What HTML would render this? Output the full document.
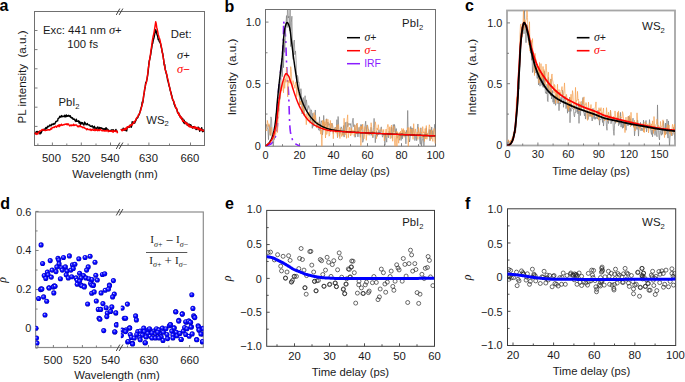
<!DOCTYPE html>
<html><head><meta charset="utf-8"><style>
html,body{margin:0;padding:0;background:#fff;width:685px;height:382px;overflow:hidden}
svg{display:block}
</style></head><body>
<svg width="685" height="382" viewBox="0 0 685 382" font-family="Liberation Sans, sans-serif">
<defs><clipPath id="clipA"><rect x="34.5" y="11.5" width="170" height="134"/></clipPath><clipPath id="clipB"><rect x="265.5" y="9.5" width="170" height="136.7"/></clipPath><clipPath id="clipC"><rect x="507" y="10.5" width="168" height="135"/></clipPath><radialGradient id="sph" cx="0.5" cy="0.5" r="0.5" fx="0.36" fy="0.34"><stop offset="0" stop-color="#f0f0ff"/><stop offset="0.22" stop-color="#6060ff"/><stop offset="0.55" stop-color="#0808ff"/><stop offset="0.85" stop-color="#0000e8"/><stop offset="1" stop-color="#0000a8"/></radialGradient><clipPath id="clipD1"><rect x="35.6" y="212" width="82.7" height="135.5"/></clipPath><clipPath id="clipD2"><rect x="120.8" y="212" width="82.5" height="135.5"/></clipPath><clipPath id="clipE"><rect x="266.7" y="210.4" width="167.8" height="135.9"/></clipPath><clipPath id="clipF"><rect x="507.5" y="208.8" width="168.2" height="136.7"/></clipPath></defs>
<text x="-0.5" y="11" font-size="16" font-weight="bold" fill="#000">a</text>
<rect x="34.5" y="11.5" width="170" height="134" fill="none" stroke="#707070" stroke-width="1.0"/>
<path d="M116.45,14.6 L119.65,8.9 M119.35,14.6 L122.7,8.9" stroke="#3a3a3a" stroke-width="0.95" fill="none" stroke-linecap="round"/>
<path d="M116.45,148.6 L119.65,142.9 M119.35,148.6 L122.7,142.9" stroke="#3a3a3a" stroke-width="0.95" fill="none" stroke-linecap="round"/>
<path d="M52.4,145.5 L52.4,142.5 M81.3,145.5 L81.3,142.5 M110.5,145.5 L110.5,142.5 M148.9,145.5 L148.9,142.5 M190.5,145.5 L190.5,142.5 " stroke="#707070" stroke-width="0.9" fill="none"/>
<path d="M37.9,145.5 L37.9,143.5 M66.8,145.5 L66.8,143.5 M96,145.5 L96,143.5 M128.1,145.5 L128.1,143.5 M169.5,145.5 L169.5,143.5 " stroke="#707070" stroke-width="0.9" fill="none"/>
<path d="M34.5,30.5 L37.5,30.5 M34.5,49.6 L37.5,49.6 M34.5,68.8 L37.5,68.8 M34.5,88 L37.5,88 M34.5,107.2 L37.5,107.2 M34.5,126.4 L37.5,126.4 " stroke="#707070" stroke-width="0.9" fill="none"/>
<text x="51.5" y="161.9" font-size="11.3" text-anchor="middle" fill="#1a1a1a" >500</text>
<text x="80.9" y="161.9" font-size="11.3" text-anchor="middle" fill="#1a1a1a" >520</text>
<text x="110.2" y="161.9" font-size="11.3" text-anchor="middle" fill="#1a1a1a" >540</text>
<text x="148.5" y="161.9" font-size="11.3" text-anchor="middle" fill="#1a1a1a" >630</text>
<text x="189.9" y="161.9" font-size="11.3" text-anchor="middle" fill="#1a1a1a" >660</text>
<text x="115" y="178" font-size="11.3" text-anchor="middle" fill="#1a1a1a" >Wavelength (nm)</text>
<text x="21" y="77" font-size="11.6" text-anchor="middle" fill="#1a1a1a" transform="rotate(-90 21 77)" dominant-baseline="central" xml:space="preserve">PL intensity  (a.u.)</text>
<text x="43" y="34.3" font-size="11.3" text-anchor="start" fill="#1a1a1a" >Exc: 441 nm <tspan font-family="Liberation Serif" font-style="italic" font-size="12.5">&#963;</tspan>+</text>
<text x="82.7" y="47.5" font-size="11.3" text-anchor="middle" fill="#1a1a1a" >100 fs</text>
<text x="170.8" y="37.8" font-size="11.3" text-anchor="start" fill="#1a1a1a" >Det:</text>
<text x="183.5" y="58.8" font-size="11.3" text-anchor="middle" fill="#1a1a1a" ><tspan font-family="Liberation Serif" font-style="italic" font-size="12.5">&#963;</tspan>+</text>
<text x="183.5" y="73.3" font-size="11.3" text-anchor="middle" fill="#ff0000" ><tspan font-family="Liberation Serif" font-style="italic" font-size="12.5">&#963;</tspan>&#8722;</text>
<text x="69" y="105.7" font-size="11.3" text-anchor="middle" fill="#1a1a1a" >PbI<tspan font-size="7.6" dy="2.8">2</tspan></text>
<text x="157.5" y="123.5" font-size="11.3" text-anchor="middle" fill="#1a1a1a" >WS<tspan font-size="7.6" dy="2.8">2</tspan></text>
<g clip-path="url(#clipA)" fill="none" stroke-linejoin="round">
<path d="M34.5,132.93 L35.05,133.57 L35.6,133.18 L36.15,131.67 L36.7,131.68 L37.25,131.42 L37.8,132.23 L38.35,131.9 L38.9,132.77 L39.45,131.13 L40,133.95 L40.55,132.83 L41.1,133.09 L41.65,131.62 L42.2,130.45 L42.75,130.38 L43.3,130.33 L43.85,129.32 L44.4,129.16 L44.95,129.61 L45.5,128.27 L46.05,127.57 L46.6,128.74 L47.15,127.61 L47.7,126.29 L48.25,126.72 L48.8,126.58 L49.35,125.61 L49.9,124.94 L50.45,125.64 L51,125.87 L51.55,124.65 L52.1,123.98 L52.65,124.58 L53.2,124.6 L53.75,123.59 L54.3,123.93 L54.85,123.92 L55.4,122.47 L55.95,121.4 L56.5,121.61 L57.05,120.86 L57.6,120.85 L58.15,118.48 L58.7,118.4 L59.25,117.66 L59.8,116.37 L60.35,117.17 L60.9,116.94 L61.45,115.56 L62,116.86 L62.55,116.32 L63.1,116.23 L63.65,116.21 L64.2,116.82 L64.75,115.28 L65.3,116.85 L65.85,116.82 L66.4,114.91 L66.95,116.31 L67.5,115.67 L68.05,116.31 L68.6,115.38 L69.15,115.85 L69.7,116.4 L70.25,115.87 L70.8,117.4 L71.35,117.3 L71.9,118.14 L72.45,117.72 L73,119.26 L73.55,119.24 L74.1,118.98 L74.65,119.92 L75.2,120.71 L75.75,121.42 L76.3,119.18 L76.85,121.28 L77.4,121.23 L77.95,121.1 L78.5,120.78 L79.05,122.94 L79.6,121.54 L80.15,123.39 L80.7,124.34 L81.25,122.43 L81.8,123.47 L82.35,122.69 L82.9,123.81 L83.45,124.69 L84,125.01 L84.55,122.1 L85.1,122.97 L85.65,123.96 L86.2,124.77 L86.75,124.16 L87.3,123.61 L87.85,124.74 L88.4,124.86 L88.95,125.02 L89.5,124.9 L90.05,126.04 L90.6,126.28 L91.15,126.27 L91.7,126.44 L92.25,125.88 L92.8,126.67 L93.35,128.09 L93.9,127.18 L94.45,126.37 L95,128.57 L95.55,128.07 L96.1,129.35 L96.65,127.9 L97.2,127.58 L97.75,126.91 L98.3,129.05 L98.85,130.04 L99.4,127.55 L99.95,127.74 L100.5,128.73 L101.05,127.72 L101.6,128.21 L102.15,128.23 L102.7,128.73 L103.25,129.51 L103.8,128.82 L104.35,129.62 L104.9,128.74 L105.45,129.43 L106,127.71 L106.55,128.35 L107.1,130.16 L107.65,129.23 L108.2,130.22 L108.75,130.31 L109.3,131.02 L109.85,130.75 L110.4,131.02 L110.95,130.28 L111.5,129.94 L112.05,130.01 L112.6,130.27 L113.15,129.85 L113.7,130.34 L114.25,130.73 L114.8,131.03 L115.35,130.63 L115.9,129.48 L116.45,130.9 L117,131.15 L117.55,131.81" stroke="#000" stroke-width="1.45"/>
<path d="M121.2,128.91 L121.7,130.27 L122.2,129.67 L122.7,130.02 L123.2,128.21 L123.7,128.66 L124.2,129.89 L124.7,129.32 L125.2,130.59 L125.7,128.41 L126.2,128.89 L126.7,130.9 L127.2,127.42 L127.7,126.91 L128.2,127.25 L128.7,126.84 L129.2,127.22 L129.7,126.24 L130.2,125.12 L130.7,125.57 L131.2,127.24 L131.7,125.67 L132.2,121.79 L132.7,123.58 L133.2,122.45 L133.7,123.18 L134.2,121.91 L134.7,123.06 L135.2,121.53 L135.7,120.78 L136.2,119.43 L136.7,118.45 L137.2,117.96 L137.7,117.89 L138.2,116.3 L138.7,114.53 L139.2,114.82 L139.7,112.72 L140.2,111.22 L140.7,109.21 L141.2,107.83 L141.7,105.98 L142.2,102.03 L142.7,102.8 L143.2,99.66 L143.7,95.74 L144.2,92.87 L144.7,89.33 L145.2,87.1 L145.7,82.76 L146.2,82.5 L146.7,80.43 L147.2,78.2 L147.7,75 L148.2,71.18 L148.7,65.53 L149.2,61.05 L149.7,59.76 L150.2,56.58 L150.7,54.51 L151.2,50.71 L151.7,48.19 L152.2,44.08 L152.7,43.29 L153.2,40.3 L153.7,38.85 L154.2,36.81 L154.7,33.8 L155.2,31.17 L155.7,29.63 L156.2,31.23 L156.7,33.5 L157.2,34.9 L157.7,36.34 L158.2,39.59 L158.7,39.2 L159.2,41.3 L159.7,42.07 L160.2,42.74 L160.7,44.33 L161.2,47.02 L161.7,48.93 L162.2,52.09 L162.7,53.36 L163.2,56.85 L163.7,60.4 L164.2,64.97 L164.7,64.53 L165.2,69.44 L165.7,70.75 L166.2,73.49 L166.7,74.59 L167.2,77.31 L167.7,80.52 L168.2,81.78 L168.7,84.14 L169.2,86.29 L169.7,87.42 L170.2,90.54 L170.7,91.86 L171.2,93.26 L171.7,95.8 L172.2,97.49 L172.7,99.94 L173.2,100.62 L173.7,101.44 L174.2,104.34 L174.7,105.21 L175.2,106.76 L175.7,107.52 L176.2,108.21 L176.7,109.21 L177.2,110.53 L177.7,112.72 L178.2,113.16 L178.7,112.92 L179.2,115.2 L179.7,114.98 L180.2,117.14 L180.7,116.68 L181.2,117.27 L181.7,119.03 L182.2,119.4 L182.7,118.57 L183.2,121.13 L183.7,122.84 L184.2,120.24 L184.7,123.53 L185.2,121.86 L185.7,122.46 L186.2,123.15 L186.7,122.48 L187.2,125.21 L187.7,124.91 L188.2,124.22 L188.7,124.96 L189.2,124.21 L189.7,125.45 L190.2,126.78 L190.7,124.74 L191.2,126.02 L191.7,126.71 L192.2,127.65 L192.7,128.08 L193.2,126.71 L193.7,126.63 L194.2,127.81 L194.7,127.29 L195.2,127.5 L195.7,128.84 L196.2,129.51 L196.7,128.45 L197.2,128.21 L197.7,129.01 L198.2,127.08 L198.7,128.82 L199.2,128.1 L199.7,131.2 L200.2,129.97 L200.7,129.67 L201.2,129.58 L201.7,127.81 L202.2,130.75 L202.7,131.71 L203.2,129.87 L203.7,131.21 L204.2,131.35" stroke="#000" stroke-width="1.45"/>
<path d="M34.5,133.9 L35.05,133.17 L35.6,133.04 L36.15,134.43 L36.7,133.6 L37.25,134.04 L37.8,134.04 L38.35,132.1 L38.9,132.3 L39.45,131.8 L40,131.34 L40.55,130.89 L41.1,130.45 L41.65,130.37 L42.2,129.41 L42.75,130.12 L43.3,129.78 L43.85,130.24 L44.4,129.9 L44.95,130.49 L45.5,130.59 L46.05,130.29 L46.6,130.28 L47.15,130.14 L47.7,129.82 L48.25,129.94 L48.8,129.72 L49.35,130.07 L49.9,129.64 L50.45,129.65 L51,128.25 L51.55,129.1 L52.1,127.85 L52.65,127.56 L53.2,127.61 L53.75,127.19 L54.3,127.45 L54.85,126.77 L55.4,126.3 L55.95,126.24 L56.5,127.24 L57.05,126.37 L57.6,125.53 L58.15,126.01 L58.7,124.99 L59.25,126.68 L59.8,124.71 L60.35,125.65 L60.9,125.52 L61.45,124.26 L62,125.05 L62.55,125.27 L63.1,124.83 L63.65,124.58 L64.2,124.84 L64.75,124.31 L65.3,124.33 L65.85,124.04 L66.4,124.45 L66.95,123.65 L67.5,124.73 L68.05,124.18 L68.6,124.05 L69.15,125.03 L69.7,125.94 L70.25,125.67 L70.8,124.94 L71.35,125.67 L71.9,125.09 L72.45,125.32 L73,125.48 L73.55,124.2 L74.1,125.62 L74.65,125 L75.2,125.24 L75.75,124.87 L76.3,124.9 L76.85,125.28 L77.4,126.32 L77.95,126.85 L78.5,125.99 L79.05,126.69 L79.6,126.04 L80.15,125.24 L80.7,126.52 L81.25,126.88 L81.8,126.65 L82.35,127.34 L82.9,127.78 L83.45,127.28 L84,127.22 L84.55,128.14 L85.1,128.33 L85.65,128.38 L86.2,129.23 L86.75,129.75 L87.3,128.67 L87.85,129.37 L88.4,129.59 L88.95,129.54 L89.5,129.8 L90.05,129.08 L90.6,129.76 L91.15,130.53 L91.7,129.93 L92.25,129.21 L92.8,129.95 L93.35,130.37 L93.9,129.94 L94.45,129.49 L95,130.7 L95.55,129.23 L96.1,130.25 L96.65,130.01 L97.2,129.42 L97.75,130.79 L98.3,130.36 L98.85,129.57 L99.4,130.59 L99.95,130.06 L100.5,129.29 L101.05,129.99 L101.6,130.54 L102.15,130.77 L102.7,130.54 L103.25,130.5 L103.8,130.76 L104.35,130.41 L104.9,131.2 L105.45,130.66 L106,130.77 L106.55,130.94 L107.1,130.1 L107.65,130.34 L108.2,131.63 L108.75,131.05 L109.3,130.79 L109.85,131.23 L110.4,130.87 L110.95,131.37 L111.5,130.94 L112.05,131.53 L112.6,130.57 L113.15,132.21 L113.7,131.22 L114.25,130.63 L114.8,131.36 L115.35,131.25 L115.9,131.5 L116.45,130.74 L117,131.53 L117.55,133.23" stroke="#ff0000" stroke-width="1.45"/>
<path d="M121.2,129.07 L121.7,130.54 L122.2,130.75 L122.7,129.99 L123.2,129.72 L123.7,130.11 L124.2,128.57 L124.7,129.41 L125.2,129.83 L125.7,128.26 L126.2,129.34 L126.7,128.17 L127.2,126.82 L127.7,127.62 L128.2,126.7 L128.7,127.07 L129.2,125.8 L129.7,126.76 L130.2,125.32 L130.7,125.6 L131.2,124.64 L131.7,124.4 L132.2,124.87 L132.7,123.83 L133.2,122.96 L133.7,121.9 L134.2,122.75 L134.7,121.86 L135.2,120.55 L135.7,120.17 L136.2,118.65 L136.7,117.88 L137.2,117.17 L137.7,117 L138.2,116.02 L138.7,114.38 L139.2,114.18 L139.7,113.03 L140.2,111.39 L140.7,110.51 L141.2,108.14 L141.7,106.45 L142.2,104.68 L142.7,101.92 L143.2,99.65 L143.7,95.17 L144.2,92.84 L144.7,88.49 L145.2,86.69 L145.7,84.03 L146.2,83.06 L146.7,80.74 L147.2,77.47 L147.7,73.94 L148.2,69.04 L148.7,66.05 L149.2,62.64 L149.7,58.71 L150.2,56.37 L150.7,52.34 L151.2,48.77 L151.7,45.72 L152.2,41.65 L152.7,38.7 L153.2,35.94 L153.7,34.1 L154.2,31.31 L154.7,28.35 L155.2,25.03 L155.7,21.79 L156.2,23.71 L156.7,27.22 L157.2,29.19 L157.7,31.68 L158.2,34.39 L158.7,36.12 L159.2,37.8 L159.7,38.99 L160.2,40.87 L160.7,43.99 L161.2,45.72 L161.7,48.92 L162.2,52.37 L162.7,54.21 L163.2,56.99 L163.7,60.47 L164.2,63.96 L164.7,66.82 L165.2,69.16 L165.7,71.54 L166.2,72.17 L166.7,74.49 L167.2,77.1 L167.7,78.63 L168.2,80.67 L168.7,83.04 L169.2,85.43 L169.7,87.95 L170.2,89.46 L170.7,92.18 L171.2,94.97 L171.7,95.75 L172.2,98.45 L172.7,99.47 L173.2,99.98 L173.7,101.73 L174.2,102.51 L174.7,104.83 L175.2,104.99 L175.7,107.8 L176.2,108.65 L176.7,108.36 L177.2,111.24 L177.7,112.85 L178.2,112.59 L178.7,114.77 L179.2,114.15 L179.7,116.33 L180.2,116 L180.7,117.99 L181.2,117.27 L181.7,117.35 L182.2,119.71 L182.7,121.36 L183.2,120.14 L183.7,121.5 L184.2,121.57 L184.7,121.79 L185.2,122.81 L185.7,123.87 L186.2,122.56 L186.7,124.04 L187.2,124.32 L187.7,123.64 L188.2,125.83 L188.7,126.37 L189.2,124.92 L189.7,126.79 L190.2,126.01 L190.7,126.1 L191.2,127.3 L191.7,126.72 L192.2,126.95 L192.7,127.84 L193.2,127.87 L193.7,127.8 L194.2,126.59 L194.7,126.66 L195.2,128.44 L195.7,127.37 L196.2,128.17 L196.7,127.58 L197.2,128.27 L197.7,127.76 L198.2,129.66 L198.7,128.23 L199.2,128.93 L199.7,129.06 L200.2,130.08 L200.7,128.7 L201.2,129.73 L201.7,129.82 L202.2,130.46 L202.7,130.61 L203.2,130.21 L203.7,130.77 L204.2,130.51" stroke="#ff0000" stroke-width="1.45"/>
</g>
<text x="224.5" y="11.5" font-size="16" font-weight="bold" fill="#000">b</text>
<rect x="265.5" y="9.5" width="170" height="136.7" fill="none" stroke="#707070" stroke-width="1.0"/>
<path d="M299.5,146.2 L299.5,143.2 M333.5,146.2 L333.5,143.2 M367.5,146.2 L367.5,143.2 M401.5,146.2 L401.5,143.2 " stroke="#707070" stroke-width="0.9" fill="none"/>
<path d="M282.5,146.2 L282.5,144.2 M316.5,146.2 L316.5,144.2 M350.5,146.2 L350.5,144.2 M384.5,146.2 L384.5,144.2 M418.5,146.2 L418.5,144.2 " stroke="#707070" stroke-width="0.9" fill="none"/>
<path d="M265.5,22.1 L268.5,22.1 M265.5,83.4 L268.5,83.4 " stroke="#707070" stroke-width="0.9" fill="none"/>
<path d="M265.5,52.75 L267.5,52.75 M265.5,114.05 L267.5,114.05 " stroke="#707070" stroke-width="0.9" fill="none"/>
<text x="265.5" y="158.9" font-size="10.9" text-anchor="middle" fill="#1a1a1a" >0</text>
<text x="299.5" y="158.9" font-size="10.9" text-anchor="middle" fill="#1a1a1a" >20</text>
<text x="333.5" y="158.9" font-size="10.9" text-anchor="middle" fill="#1a1a1a" >40</text>
<text x="367.5" y="158.9" font-size="10.9" text-anchor="middle" fill="#1a1a1a" >60</text>
<text x="401.5" y="158.9" font-size="10.9" text-anchor="middle" fill="#1a1a1a" >80</text>
<text x="435.5" y="158.9" font-size="10.9" text-anchor="middle" fill="#1a1a1a" >100</text>
<text x="260.9" y="25.8" font-size="10.9" text-anchor="end" fill="#1a1a1a" >1.0</text>
<text x="260.9" y="87.9" font-size="10.9" text-anchor="end" fill="#1a1a1a" >0.5</text>
<text x="260.9" y="149.6" font-size="10.9" text-anchor="end" fill="#1a1a1a" >0</text>
<text x="351" y="175.2" font-size="11.3" text-anchor="middle" fill="#1a1a1a" >Time delay (ps)</text>
<text x="231.2" y="77" font-size="11.6" text-anchor="middle" fill="#1a1a1a" transform="rotate(-90 231.2 77)" dominant-baseline="central" xml:space="preserve">Intensity  (a.u.)</text>
<text x="423.3" y="26.8" font-size="11.3" text-anchor="end" fill="#1a1a1a" >PbI<tspan font-size="7.6" dy="2.8">2</tspan></text>
<path d="M347,37.7 L360,37.7" stroke="#000" stroke-width="1.5"/>
<path d="M347,50.7 L360,50.7" stroke="#ff0000" stroke-width="1.5"/>
<path d="M347,63.7 L360,63.7" stroke="#8a1dff" stroke-width="1.5"/>
<text x="364.5" y="40.6" font-size="10.6" text-anchor="start" fill="#1a1a1a" ><tspan font-family="Liberation Serif" font-style="italic" font-size="11.8">&#963;</tspan>+</text>
<text x="364.5" y="53.6" font-size="10.6" text-anchor="start" fill="#ff0000" ><tspan font-family="Liberation Serif" font-style="italic" font-size="11.8">&#963;</tspan>&#8722;</text>
<text x="364.2" y="66.9" font-size="10.4" text-anchor="start" fill="#8a1dff" >IRF</text>
<g clip-path="url(#clipB)" fill="none" stroke-linejoin="round">
<path d="M266,146.2 L270.83,144.09 L272.96,141.97 L274.22,139.86 L275.08,137.75 L275.77,135.63 L276.33,133.52 L276.74,131.41 L277.04,129.29 L277.29,127.18 L277.46,125.06 L277.52,122.95 L277.56,120.84 L277.58,118.72 L277.6,116.61 L277.6,114.5 L277.6,112.38 L277.6,110.27 L277.6,108.16 L277.6,106.04 L277.6,103.93 L277.64,101.82 L277.74,99.7 L277.88,97.59 L278.06,95.47 L278.26,93.36 L278.47,91.25 L278.66,89.13 L278.85,87.02 L279.06,84.91 L279.29,82.79 L279.53,80.68 L279.78,78.57 L280.03,76.45 L280.27,74.34 L280.51,72.23 L280.75,70.11 L281,68 L281.25,65.88 L281.5,63.77 L281.75,61.66 L281.97,59.54 L282.18,57.43 L282.36,55.32 L282.53,53.2 L282.7,51.09 L282.86,48.98 L283,46.86 L283.13,44.75 L283.23,42.64 L283.3,40.52 L283.35,38.41 L283.4,36.29 L283.45,34.18 L283.49,32.07 L283.53,29.95 L283.56,27.84 L283.58,25.73 L283.6,23.61 L283.6,21.5 L283.6,21.5 L284.08,23.61 L284.46,25.73 L284.73,27.84 L284.97,29.95 L285.17,32.07 L285.35,34.18 L285.5,36.29 L285.62,38.41 L285.73,40.52 L285.82,42.64 L285.91,44.75 L285.98,46.86 L286.05,48.98 L286.12,51.09 L286.19,53.2 L286.27,55.32 L286.36,57.43 L286.44,59.54 L286.52,61.66 L286.6,63.77 L286.68,65.88 L286.76,68 L286.85,70.11 L286.95,72.23 L287.05,74.34 L287.17,76.45 L287.31,78.57 L287.48,80.68 L287.68,82.79 L287.9,84.91 L288.11,87.02 L288.3,89.13 L288.46,91.25 L288.57,93.36 L288.67,95.47 L288.76,97.59 L288.84,99.7 L288.92,101.82 L288.99,103.93 L289.06,106.04 L289.14,108.16 L289.21,110.27 L289.28,112.38 L289.34,114.5 L289.4,116.61 L289.47,118.72 L289.55,120.84 L289.65,122.95 L289.77,125.06 L289.92,127.18 L290.11,129.29 L290.35,131.41 L290.69,133.52 L291.16,135.63 L291.76,137.75 L292.55,139.86 L293.83,141.97 L295.96,144.09 L300,146.2" stroke="#8a1dff" stroke-width="1.6" stroke-dasharray="8.5 4.5 2 4.5"/>
<path d="M265.5,130.26 L266.1,127.26 L266.7,124.36 L267.3,127.66 L267.9,129.71 L268.5,139.7 L269.1,125.22 L269.7,129.41 L270.3,135.48 L270.9,116.89 L271.5,118.65 L272.1,134.3 L272.7,137.84 L273.3,148.2 L273.9,137.34 L274.5,139.48 L275.1,130.3 L275.7,116.02 L276.3,113.19 L276.9,127.44 L277.5,117.73 L278.1,101.95 L278.7,110.7 L279.3,84.78 L279.9,99.45 L280.5,96.82 L281.1,72.39 L281.7,63.58 L282.3,76.64 L282.9,52.99 L283.5,67.65 L284.1,39.47 L284.7,52.4 L285.3,37.22 L285.9,25.09 L286.5,15.6 L287.1,27.59 L287.7,-1.72 L288.3,17.96 L288.9,16.19 L289.5,30.73 L290.1,7 L290.7,46.59 L291.3,22.74 L291.9,16.2 L292.5,51.81 L293.1,59.41 L293.7,42.73 L294.3,40.04 L294.9,54.71 L295.5,50.94 L296.1,60.31 L296.7,82.64 L297.3,75.31 L297.9,76.86 L298.5,82.45 L299.1,82.22 L299.7,104.85 L300.3,96.31 L300.9,88.66 L301.5,94.45 L302.1,113.85 L302.7,100.41 L303.3,97.56 L303.9,115.34 L304.5,102.08 L305.1,95.72 L305.7,109.43 L306.3,99.85 L306.9,103.84 L307.5,110.52 L308.1,108.63 L308.7,105.56 L309.3,108 L309.9,108.73 L310.5,120.76 L311.1,109.78 L311.7,111.54 L312.3,128.3 L312.9,113.19 L313.5,126.23 L314.1,125.8 L314.7,117.7 L315.3,109.98 L315.9,122.49 L316.5,124.31 L317.1,126.53 L317.7,121.88 L318.3,128.78 L318.9,130.22 L319.5,116.84 L320.1,131.13 L320.7,124.47 L321.3,120.71 L321.9,122.43 L322.5,134.83 L323.1,130.22 L323.7,115.41 L324.3,125.9 L324.9,124.98 L325.5,125.06 L326.1,123.52 L326.7,118.74 L327.3,131.35 L327.9,122 L328.5,125.24 L329.1,124.22 L329.7,123.76 L330.3,131.67 L330.9,129.94 L331.5,124.55 L332.1,123.28 L332.7,125.9 L333.3,133.51 L333.9,129.26 L334.5,129.93 L335.1,127.14 L335.7,127.62 L336.3,130.18 L336.9,119.67 L337.5,137.56 L338.1,116.5 L338.7,126.55 L339.3,136.41 L339.9,134.27 L340.5,129.94 L341.1,126.83 L341.7,128.01 L342.3,130.9 L342.9,135.1 L343.5,125.52 L344.1,137.08 L344.7,124.5 L345.3,122.35 L345.9,132.9 L346.5,130.39 L347.1,121.84 L347.7,126.74 L348.3,125.33 L348.9,123.12 L349.5,124.57 L350.1,125.26 L350.7,123.54 L351.3,132.33 L351.9,127.48 L352.5,120.87 L353.1,118.2 L353.7,126.76 L354.3,124.69 L354.9,137.25 L355.5,136.91 L356.1,125.34 L356.7,123.77 L357.3,126.18 L357.9,136.87 L358.5,129.7 L359.1,127.26 L359.7,131.19 L360.3,137.38 L360.9,124.47 L361.5,129.52 L362.1,124.57 L362.7,142.32 L363.3,140.59 L363.9,136.3 L364.5,130.93 L365.1,125.06 L365.7,121.21 L366.3,133.06 L366.9,125.08 L367.5,125.17 L368.1,128.28 L368.7,130.06 L369.3,134.68 L369.9,135.33 L370.5,133.19 L371.1,127.24 L371.7,135.29 L372.3,131.37 L372.9,137.83 L373.5,127.48 L374.1,118.39 L374.7,129.72 L375.3,142.72 L375.9,134.44 L376.5,131.19 L377.1,136.53 L377.7,134.68 L378.3,134.5 L378.9,129.72 L379.5,132.65 L380.1,133.29 L380.7,129.16 L381.3,126.85 L381.9,133.06 L382.5,137.16 L383.1,135.61 L383.7,134.88 L384.3,134.95 L384.9,145.19 L385.5,133.8 L386.1,137.67 L386.7,142.18 L387.3,132.87 L387.9,133.93 L388.5,137.77 L389.1,131.33 L389.7,134.24 L390.3,134.52 L390.9,133.21 L391.5,126.9 L392.1,138.28 L392.7,131.62 L393.3,124.49 L393.9,132.2 L394.5,124.51 L395.1,128.06 L395.7,133.09 L396.3,128.55 L396.9,138.28 L397.5,137.7 L398.1,134.41 L398.7,135.87 L399.3,140.29 L399.9,137.7 L400.5,134.38 L401.1,140.5 L401.7,133.02 L402.3,138.86 L402.9,130.17 L403.5,135.91 L404.1,132.96 L404.7,134.61 L405.3,132.2 L405.9,143.83 L406.5,130.35 L407.1,134.78 L407.7,110.48 L408.3,136.55 L408.9,135.81 L409.5,141.99 L410.1,138.43 L410.7,126.45 L411.3,133.79 L411.9,127.82 L412.5,134.91 L413.1,128.12 L413.7,129.22 L414.3,133.58 L414.9,140.61 L415.5,136.7 L416.1,135.37 L416.7,140.72 L417.3,129.46 L417.9,123.97 L418.5,132.01 L419.1,132.74 L419.7,140.02 L420.3,144.38 L420.9,127.77 L421.5,146.04 L422.1,141.69 L422.7,138.24 L423.3,136.01 L423.9,145.88 L424.5,137.5 L425.1,132.05 L425.7,135 L426.3,127.82 L426.9,136.64 L427.5,133.88 L428.1,136.01 L428.7,136.17 L429.3,129.43 L429.9,140.78 L430.5,129.69 L431.1,138.78 L431.7,126.98 L432.3,136.36 L432.9,130.71 L433.5,134.84 L434.1,131.56 L434.7,124.3 L435.3,129.41 L435.9,135.05" stroke="#7c7c7c" stroke-width="0.7"/>
<path d="M265.5,130.75 L266.1,129.6 L266.7,130.92 L267.3,120.4 L267.9,123.11 L268.5,126.33 L269.1,123.81 L269.7,130.99 L270.3,135.18 L270.9,127.63 L271.5,127.37 L272.1,137.62 L272.7,139.47 L273.3,135.32 L273.9,138.5 L274.5,136.35 L275.1,128.73 L275.7,134.47 L276.3,128.43 L276.9,126.48 L277.5,132.52 L278.1,118.11 L278.7,117.7 L279.3,107.34 L279.9,98.29 L280.5,93.99 L281.1,87.51 L281.7,90.78 L282.3,82.77 L282.9,81.36 L283.5,92.81 L284.1,79.05 L284.7,88.36 L285.3,78.68 L285.9,82.37 L286.5,67.51 L287.1,73.8 L287.7,96.92 L288.3,80.58 L288.9,82.85 L289.5,76.54 L290.1,83.3 L290.7,66.65 L291.3,71.25 L291.9,84.21 L292.5,89.21 L293.1,80.57 L293.7,84.39 L294.3,84.94 L294.9,88.3 L295.5,82.19 L296.1,82.29 L296.7,96.66 L297.3,83.76 L297.9,91.2 L298.5,95.19 L299.1,93.91 L299.7,104.52 L300.3,101.08 L300.9,104.9 L301.5,99.8 L302.1,102.79 L302.7,112.23 L303.3,105.68 L303.9,107.93 L304.5,114.29 L305.1,114.14 L305.7,114.91 L306.3,124.69 L306.9,113.25 L307.5,119.07 L308.1,119.82 L308.7,116.6 L309.3,111.75 L309.9,123.25 L310.5,121.28 L311.1,120.57 L311.7,120.92 L312.3,121.4 L312.9,116.66 L313.5,123.83 L314.1,112.49 L314.7,122.87 L315.3,115.08 L315.9,121.81 L316.5,128.04 L317.1,123.01 L317.7,122.12 L318.3,127.82 L318.9,123.84 L319.5,123.35 L320.1,123.69 L320.7,134.16 L321.3,129.85 L321.9,148.59 L322.5,120.45 L323.1,130.26 L323.7,120.38 L324.3,129.93 L324.9,121.76 L325.5,138.01 L326.1,119.2 L326.7,134.51 L327.3,132.47 L327.9,119.27 L328.5,127.36 L329.1,136.19 L329.7,134.7 L330.3,120.42 L330.9,128.81 L331.5,123.1 L332.1,123.94 L332.7,125.98 L333.3,138.75 L333.9,130.07 L334.5,128.3 L335.1,127.8 L335.7,132.96 L336.3,133.13 L336.9,124.98 L337.5,137.18 L338.1,124.25 L338.7,128.39 L339.3,132.13 L339.9,138.56 L340.5,128.16 L341.1,131.41 L341.7,136.6 L342.3,133.19 L342.9,135.77 L343.5,135.36 L344.1,118.27 L344.7,133.37 L345.3,134.85 L345.9,130.11 L346.5,138.36 L347.1,120.31 L347.7,114.83 L348.3,137.68 L348.9,132.59 L349.5,127.24 L350.1,132.41 L350.7,136.01 L351.3,127.78 L351.9,134.48 L352.5,130.04 L353.1,130.12 L353.7,130.38 L354.3,136.33 L354.9,125.18 L355.5,128.98 L356.1,134.17 L356.7,124.79 L357.3,123.02 L357.9,133.8 L358.5,130.99 L359.1,130.28 L359.7,131.76 L360.3,126.23 L360.9,145.64 L361.5,126.24 L362.1,129 L362.7,124.12 L363.3,129.16 L363.9,138.86 L364.5,131.38 L365.1,126.59 L365.7,128.94 L366.3,140.38 L366.9,132.22 L367.5,125.24 L368.1,135.28 L368.7,129.65 L369.3,134.53 L369.9,132.23 L370.5,132.88 L371.1,122.71 L371.7,127.14 L372.3,133.73 L372.9,136.51 L373.5,131.04 L374.1,133.14 L374.7,129.47 L375.3,121.79 L375.9,125.51 L376.5,138.72 L377.1,127.99 L377.7,130 L378.3,124.68 L378.9,129.34 L379.5,130.13 L380.1,130.9 L380.7,131.65 L381.3,128.93 L381.9,129.24 L382.5,132.02 L383.1,133.7 L383.7,129.45 L384.3,140.72 L384.9,133.2 L385.5,133.01 L386.1,129.02 L386.7,137.3 L387.3,127.28 L387.9,124.39 L388.5,127.57 L389.1,135.4 L389.7,126.79 L390.3,138.75 L390.9,127.78 L391.5,125.06 L392.1,129.7 L392.7,141.23 L393.3,128.35 L393.9,126.19 L394.5,142.02 L395.1,147.79 L395.7,137.61 L396.3,131.08 L396.9,151.52 L397.5,131.73 L398.1,138.47 L398.7,143.24 L399.3,132.29 L399.9,139.15 L400.5,131.19 L401.1,135.75 L401.7,128.39 L402.3,129.24 L402.9,134.98 L403.5,128.65 L404.1,137.32 L404.7,130.38 L405.3,133.45 L405.9,132.7 L406.5,133.01 L407.1,133.79 L407.7,127.59 L408.3,148.21 L408.9,127.5 L409.5,134.71 L410.1,132.43 L410.7,128.9 L411.3,134.71 L411.9,129.12 L412.5,133.01 L413.1,139.38 L413.7,123.7 L414.3,134.65 L414.9,135.63 L415.5,128.9 L416.1,136.05 L416.7,135.25 L417.3,131.91 L417.9,139.43 L418.5,127.36 L419.1,136.75 L419.7,132.56 L420.3,128.64 L420.9,132.88 L421.5,132.08 L422.1,137.7 L422.7,126.64 L423.3,132.9 L423.9,131.67 L424.5,141.4 L425.1,128.55 L425.7,138.99 L426.3,125.55 L426.9,139.32 L427.5,133.34 L428.1,135.81 L428.7,130.68 L429.3,124.74 L429.9,126.7 L430.5,140.34 L431.1,135.12 L431.7,130.01 L432.3,138.43 L432.9,141.4 L433.5,130.67 L434.1,128.44 L434.7,139.82 L435.3,143.57 L435.9,129.68" stroke="#f7a04f" stroke-width="0.7"/>
<path d="M265.5,146.2 L266,145.8 L266.5,145.38 L267,144.97 L267.5,144.55 L268,144.09 L268.5,143.58 L269,143 L269.5,142.34 L270,141.58 L270.5,140.72 L271,139.76 L271.5,138.69 L272,137.5 L272.5,136.13 L273,134.5 L273.5,132.61 L274,130.45 L274.5,128 L275,125 L275.5,121.25 L276,116.89 L276.5,111.61 L277,105.17 L277.5,99.66 L278,94.55 L278.5,89.67 L279,84.91 L279.5,80.32 L280,75.84 L280.5,71.43 L281,67.38 L281.5,63.43 L282,59.06 L282.5,53.51 L283,45.89 L283.5,39.42 L284,34.28 L284.5,30.15 L285,27.67 L285.5,25.75 L286,24.16 L286.5,23.03 L287,22.52 L287.5,22.67 L288,23.31 L288.5,24.33 L289,25.65 L289.5,27.18 L290,29.4 L290.5,33.02 L291,37.25 L291.5,41.26 L292,45.24 L292.5,49.34 L293,53.39 L293.5,57.25 L294,60.97 L294.5,64.61 L295,68.14 L295.5,71.54 L296,74.8 L296.5,78.05 L297,81.25 L297.5,84.3 L298,87.1 L298.5,89.56 L299,91.65 L299.5,93.49 L300,95.16 L300.5,96.7 L301,98.17 L301.5,99.58 L302,100.93 L302.5,102.22 L303,103.45 L303.5,104.62 L304,105.74 L304.5,106.8 L305,107.8 L305.5,108.78 L306,109.74 L306.5,110.66 L307,111.55 L307.5,112.41 L308,113.23 L308.5,114.02 L309,114.77 L309.5,115.48 L310,116.14 L310.5,116.78 L311,117.39 L311.5,117.99 L312,118.58 L312.5,119.15 L313,119.7 L313.5,120.23 L314,120.75 L314.5,121.24 L315,121.71 L315.5,122.16 L316,122.59 L316.5,122.99 L317,123.36 L317.5,123.71 L318,124.03 L318.5,124.33 L319,124.64 L319.5,124.93 L320,125.22 L320.5,125.5 L321,125.77 L321.5,126.04 L322,126.3 L322.5,126.55 L323,126.79 L323.5,127.03 L324,127.25 L324.5,127.47 L325,127.68 L325.5,127.88 L326,128.08 L326.5,128.26 L327,128.44 L327.5,128.6 L328,128.76 L328.5,128.91 L329,129.05 L329.5,129.18 L330,129.3 L330.5,129.41 L331,129.53 L331.5,129.63 L332,129.74 L332.5,129.84 L333,129.94 L333.5,130.04 L334,130.13 L334.5,130.23 L335,130.32 L335.5,130.4 L336,130.49 L336.5,130.57 L337,130.65 L337.5,130.72 L338,130.8 L338.5,130.87 L339,130.94 L339.5,131.01 L340,131.07 L340.5,131.13 L341,131.19 L341.5,131.25 L342,131.31 L342.5,131.36 L343,131.41 L343.5,131.46 L344,131.51 L344.5,131.56 L345,131.6 L345.5,131.64 L346,131.68 L346.5,131.73 L347,131.77 L347.5,131.81 L348,131.85 L348.5,131.89 L349,131.92 L349.5,131.96 L350,132 L350.5,132.04 L351,132.07 L351.5,132.11 L352,132.14 L352.5,132.18 L353,132.21 L353.5,132.24 L354,132.28 L354.5,132.31 L355,132.34 L355.5,132.37 L356,132.41 L356.5,132.44 L357,132.47 L357.5,132.5 L358,132.53 L358.5,132.56 L359,132.58 L359.5,132.61 L360,132.64 L360.5,132.67 L361,132.69 L361.5,132.72 L362,132.75 L362.5,132.77 L363,132.8 L363.5,132.83 L364,132.85 L364.5,132.88 L365,132.9 L365.5,132.93 L366,132.95 L366.5,132.97 L367,133 L367.5,133.02 L368,133.04 L368.5,133.07 L369,133.09 L369.5,133.11 L370,133.14 L370.5,133.16 L371,133.18 L371.5,133.2 L372,133.22 L372.5,133.25 L373,133.27 L373.5,133.29 L374,133.31 L374.5,133.33 L375,133.35 L375.5,133.37 L376,133.39 L376.5,133.42 L377,133.44 L377.5,133.46 L378,133.48 L378.5,133.5 L379,133.52 L379.5,133.54 L380,133.56 L380.5,133.58 L381,133.6 L381.5,133.63 L382,133.65 L382.5,133.67 L383,133.69 L383.5,133.71 L384,133.73 L384.5,133.75 L385,133.78 L385.5,133.8 L386,133.82 L386.5,133.84 L387,133.86 L387.5,133.89 L388,133.91 L388.5,133.93 L389,133.95 L389.5,133.98 L390,134 L390.5,134.02 L391,134.05 L391.5,134.07 L392,134.09 L392.5,134.12 L393,134.14 L393.5,134.16 L394,134.19 L394.5,134.21 L395,134.23 L395.5,134.25 L396,134.28 L396.5,134.3 L397,134.32 L397.5,134.35 L398,134.37 L398.5,134.39 L399,134.41 L399.5,134.44 L400,134.46 L400.5,134.48 L401,134.5 L401.5,134.53 L402,134.55 L402.5,134.57 L403,134.59 L403.5,134.61 L404,134.64 L404.5,134.66 L405,134.68 L405.5,134.7 L406,134.72 L406.5,134.75 L407,134.77 L407.5,134.79 L408,134.81 L408.5,134.83 L409,134.85 L409.5,134.87 L410,134.9 L410.5,134.92 L411,134.94 L411.5,134.96 L412,134.98 L412.5,135 L413,135.02 L413.5,135.04 L414,135.06 L414.5,135.09 L415,135.11 L415.5,135.13 L416,135.15 L416.5,135.17 L417,135.19 L417.5,135.21 L418,135.23 L418.5,135.25 L419,135.27 L419.5,135.29 L420,135.31 L420.5,135.33 L421,135.35 L421.5,135.37 L422,135.39 L422.5,135.41 L423,135.43 L423.5,135.45 L424,135.47 L424.5,135.49 L425,135.51 L425.5,135.53 L426,135.55 L426.5,135.57 L427,135.58 L427.5,135.6 L428,135.62 L428.5,135.64 L429,135.66 L429.5,135.68 L430,135.7 L430.5,135.72 L431,135.74 L431.5,135.75 L432,135.77 L432.5,135.79 L433,135.81 L433.5,135.83 L434,135.85 L434.5,135.86 L435,135.88 L435.5,135.9" stroke="#000" stroke-width="1.45"/>
<path d="M265.5,146.2 L266,145.68 L266.5,145.21 L267,144.8 L267.5,144.43 L268,144.08 L268.5,143.7 L269,143.29 L269.5,142.8 L270,142.23 L270.5,141.59 L271,140.86 L271.5,140.05 L272,139.15 L272.5,138.13 L273,136.96 L273.5,135.45 L274,133.69 L274.5,131.79 L275,129.84 L275.5,127.78 L276,125.42 L276.5,122.6 L277,118.67 L277.5,113.81 L278,109.09 L278.5,104.45 L279,100.58 L279.5,97.36 L280,94.5 L280.5,91.89 L281,89.39 L281.5,87.02 L282,84.81 L282.5,82.82 L283,81.1 L283.5,79.48 L284,77.82 L284.5,76.28 L285,74.97 L285.5,74.04 L286,73.61 L286.5,73.7 L287,74.06 L287.5,74.6 L288,75.24 L288.5,75.96 L289,77 L289.5,78.28 L290,79.7 L290.5,81.15 L291,82.56 L291.5,84.03 L292,85.59 L292.5,87.19 L293,88.82 L293.5,90.43 L294,92 L294.5,93.5 L295,94.95 L295.5,96.38 L296,97.79 L296.5,99.17 L297,100.5 L297.5,101.77 L298,102.98 L298.5,104.14 L299,105.26 L299.5,106.34 L300,107.37 L300.5,108.35 L301,109.26 L301.5,110.16 L302,111.05 L302.5,111.93 L303,112.8 L303.5,113.64 L304,114.47 L304.5,115.26 L305,116.04 L305.5,116.78 L306,117.48 L306.5,118.15 L307,118.78 L307.5,119.36 L308,119.9 L308.5,120.39 L309,120.86 L309.5,121.32 L310,121.76 L310.5,122.18 L311,122.59 L311.5,122.99 L312,123.37 L312.5,123.74 L313,124.09 L313.5,124.43 L314,124.76 L314.5,125.07 L315,125.37 L315.5,125.66 L316,125.93 L316.5,126.19 L317,126.43 L317.5,126.67 L318,126.89 L318.5,127.1 L319,127.32 L319.5,127.52 L320,127.73 L320.5,127.93 L321,128.13 L321.5,128.32 L322,128.51 L322.5,128.69 L323,128.87 L323.5,129.04 L324,129.2 L324.5,129.36 L325,129.51 L325.5,129.66 L326,129.79 L326.5,129.92 L327,130.05 L327.5,130.16 L328,130.27 L328.5,130.36 L329,130.45 L329.5,130.53 L330,130.6 L330.5,130.66 L331,130.72 L331.5,130.78 L332,130.84 L332.5,130.89 L333,130.94 L333.5,130.99 L334,131.04 L334.5,131.09 L335,131.13 L335.5,131.17 L336,131.21 L336.5,131.25 L337,131.29 L337.5,131.33 L338,131.36 L338.5,131.39 L339,131.43 L339.5,131.46 L340,131.49 L340.5,131.52 L341,131.56 L341.5,131.59 L342,131.62 L342.5,131.65 L343,131.68 L343.5,131.71 L344,131.74 L344.5,131.77 L345,131.8 L345.5,131.83 L346,131.86 L346.5,131.89 L347,131.92 L347.5,131.95 L348,131.98 L348.5,132.01 L349,132.04 L349.5,132.07 L350,132.1 L350.5,132.13 L351,132.16 L351.5,132.19 L352,132.22 L352.5,132.25 L353,132.27 L353.5,132.3 L354,132.33 L354.5,132.36 L355,132.38 L355.5,132.41 L356,132.44 L356.5,132.46 L357,132.49 L357.5,132.51 L358,132.54 L358.5,132.57 L359,132.59 L359.5,132.62 L360,132.64 L360.5,132.67 L361,132.69 L361.5,132.72 L362,132.74 L362.5,132.77 L363,132.79 L363.5,132.81 L364,132.84 L364.5,132.86 L365,132.89 L365.5,132.91 L366,132.93 L366.5,132.96 L367,132.98 L367.5,133 L368,133.03 L368.5,133.05 L369,133.07 L369.5,133.09 L370,133.12 L370.5,133.14 L371,133.16 L371.5,133.18 L372,133.21 L372.5,133.23 L373,133.25 L373.5,133.27 L374,133.3 L374.5,133.32 L375,133.34 L375.5,133.36 L376,133.38 L376.5,133.41 L377,133.43 L377.5,133.45 L378,133.47 L378.5,133.49 L379,133.52 L379.5,133.54 L380,133.56 L380.5,133.58 L381,133.6 L381.5,133.62 L382,133.65 L382.5,133.67 L383,133.69 L383.5,133.71 L384,133.73 L384.5,133.76 L385,133.78 L385.5,133.8 L386,133.82 L386.5,133.84 L387,133.87 L387.5,133.89 L388,133.91 L388.5,133.93 L389,133.96 L389.5,133.98 L390,134 L390.5,134.02 L391,134.04 L391.5,134.07 L392,134.09 L392.5,134.11 L393,134.13 L393.5,134.16 L394,134.18 L394.5,134.2 L395,134.22 L395.5,134.25 L396,134.27 L396.5,134.29 L397,134.31 L397.5,134.33 L398,134.36 L398.5,134.38 L399,134.4 L399.5,134.42 L400,134.44 L400.5,134.47 L401,134.49 L401.5,134.51 L402,134.53 L402.5,134.55 L403,134.57 L403.5,134.6 L404,134.62 L404.5,134.64 L405,134.66 L405.5,134.68 L406,134.7 L406.5,134.72 L407,134.75 L407.5,134.77 L408,134.79 L408.5,134.81 L409,134.83 L409.5,134.85 L410,134.87 L410.5,134.89 L411,134.92 L411.5,134.94 L412,134.96 L412.5,134.98 L413,135 L413.5,135.02 L414,135.04 L414.5,135.06 L415,135.08 L415.5,135.1 L416,135.12 L416.5,135.14 L417,135.17 L417.5,135.19 L418,135.21 L418.5,135.23 L419,135.25 L419.5,135.27 L420,135.29 L420.5,135.31 L421,135.33 L421.5,135.35 L422,135.37 L422.5,135.39 L423,135.41 L423.5,135.43 L424,135.45 L424.5,135.47 L425,135.49 L425.5,135.51 L426,135.53 L426.5,135.55 L427,135.57 L427.5,135.59 L428,135.61 L428.5,135.63 L429,135.65 L429.5,135.67 L430,135.69 L430.5,135.71 L431,135.73 L431.5,135.75 L432,135.77 L432.5,135.78 L433,135.8 L433.5,135.82 L434,135.84 L434.5,135.86 L435,135.88 L435.5,135.9" stroke="#ff0000" stroke-width="1.45"/>
</g>
<text x="465" y="10.7" font-size="16" font-weight="bold" fill="#000">c</text>
<rect x="507.0" y="10.5" width="168" height="135" fill="none" stroke="#a6a6a6" stroke-width="1.8"/>
<path d="M537.9,145.5 L537.9,142.5 M568.3,145.5 L568.3,142.5 M598.7,145.5 L598.7,142.5 M629.1,145.5 L629.1,142.5 M659.5,145.5 L659.5,142.5 " stroke="#707070" stroke-width="0.9" fill="none"/>
<path d="M522.7,145.5 L522.7,143.5 M553.1,145.5 L553.1,143.5 M583.5,145.5 L583.5,143.5 M613.9,145.5 L613.9,143.5 M644.3,145.5 L644.3,143.5 " stroke="#707070" stroke-width="0.9" fill="none"/>
<path d="M507.0,22.9 L510,22.9 M507.0,83.7 L510,83.7 " stroke="#707070" stroke-width="0.9" fill="none"/>
<path d="M507.0,53.3 L509,53.3 M507.0,114.1 L509,114.1 " stroke="#707070" stroke-width="0.9" fill="none"/>
<text x="507.5" y="158.4" font-size="10.9" text-anchor="middle" fill="#1a1a1a" >0</text>
<text x="537.9" y="158.4" font-size="10.9" text-anchor="middle" fill="#1a1a1a" >30</text>
<text x="568.3" y="158.4" font-size="10.9" text-anchor="middle" fill="#1a1a1a" >60</text>
<text x="598.7" y="158.4" font-size="10.9" text-anchor="middle" fill="#1a1a1a" >90</text>
<text x="629.1" y="158.4" font-size="10.9" text-anchor="middle" fill="#1a1a1a" >120</text>
<text x="659.5" y="158.4" font-size="10.9" text-anchor="middle" fill="#1a1a1a" >150</text>
<text x="502.4" y="26.6" font-size="10.9" text-anchor="end" fill="#1a1a1a" >1.0</text>
<text x="502.4" y="87.9" font-size="10.9" text-anchor="end" fill="#1a1a1a" >0.5</text>
<text x="502.4" y="148.9" font-size="10.9" text-anchor="end" fill="#1a1a1a" >0</text>
<text x="591" y="175.2" font-size="11.3" text-anchor="middle" fill="#1a1a1a" >Time delay (ps)</text>
<text x="471.5" y="77.1" font-size="11.6" text-anchor="middle" fill="#1a1a1a" transform="rotate(-90 471.5 77.1)" dominant-baseline="central" xml:space="preserve">Intensity  (a.u.)</text>
<text x="664.8" y="29.9" font-size="11.5" text-anchor="end" fill="#1a1a1a" >WS<tspan font-size="7.6" dy="2.8">2</tspan></text>
<path d="M576.8,37.7 L589.5,37.7" stroke="#000" stroke-width="1.6"/>
<path d="M576.8,50.7 L589.5,50.7" stroke="#ff0000" stroke-width="1.6"/>
<text x="594" y="40.6" font-size="10.6" text-anchor="start" fill="#1a1a1a" ><tspan font-family="Liberation Serif" font-style="italic" font-size="11.8">&#963;</tspan>+</text>
<text x="594" y="53.6" font-size="10.6" text-anchor="start" fill="#ff0000" ><tspan font-family="Liberation Serif" font-style="italic" font-size="11.8">&#963;</tspan>&#8722;</text>
<g clip-path="url(#clipC)" fill="none" stroke-linejoin="round">
<path d="M507,141.58 L507.5,142.94 L508,145.15 L508.5,140.08 L509,144.88 L509.5,144.02 L510,142.97 L510.5,144.71 L511,142.17 L511.5,142.57 L512,141.16 L512.5,138.5 L513,140.11 L513.5,135.84 L514,135.27 L514.5,132.57 L515,128.71 L515.5,132.94 L516,125.52 L516.5,117.37 L517,99.37 L517.5,99.5 L518,97.62 L518.5,79.99 L519,89.22 L519.5,68.55 L520,58.93 L520.5,38.36 L521,32.4 L521.5,30.75 L522,26.76 L522.5,26.94 L523,30.47 L523.5,27.21 L524,33.76 L524.5,10.58 L525,26.93 L525.5,28.3 L526,42.69 L526.5,26.79 L527,32.96 L527.5,25.26 L528,39.07 L528.5,40.93 L529,34.58 L529.5,39.08 L530,45.4 L530.5,53.23 L531,42.25 L531.5,60.23 L532,52.43 L532.5,72.53 L533,70.96 L533.5,58.32 L534,58.6 L534.5,73.71 L535,71.63 L535.5,72.67 L536,66.87 L536.5,70.43 L537,78.45 L537.5,78.33 L538,69.42 L538.5,84.96 L539,79.57 L539.5,72.03 L540,86.19 L540.5,79.26 L541,79.23 L541.5,78.62 L542,85.51 L542.5,73.5 L543,87.25 L543.5,75.97 L544,87.5 L544.5,71.29 L545,87.59 L545.5,93.19 L546,92.4 L546.5,93.96 L547,84.2 L547.5,100.85 L548,101.62 L548.5,77.26 L549,88.34 L549.5,90.21 L550,93.97 L550.5,95.68 L551,78.92 L551.5,98.97 L552,94.49 L552.5,90.53 L553,102.26 L553.5,95.25 L554,104.07 L554.5,101.01 L555,96.56 L555.5,105.32 L556,103.59 L556.5,96.6 L557,90.79 L557.5,97.04 L558,103.8 L558.5,99.39 L559,110.67 L559.5,102.71 L560,102.63 L560.5,104.03 L561,97.31 L561.5,101.69 L562,99.04 L562.5,90.22 L563,93.55 L563.5,107.27 L564,101.19 L564.5,98.04 L565,96.17 L565.5,101.13 L566,108.62 L566.5,105.22 L567,102.21 L567.5,113.19 L568,105.09 L568.5,103.81 L569,111.83 L569.5,97.1 L570,122.74 L570.5,108.28 L571,111.31 L571.5,103.49 L572,107.89 L572.5,108 L573,109.22 L573.5,108.95 L574,115.22 L574.5,116.87 L575,112.1 L575.5,112.54 L576,107.05 L576.5,103.62 L577,112.29 L577.5,109.7 L578,113.99 L578.5,102.52 L579,123.37 L579.5,103.98 L580,110.63 L580.5,115.52 L581,104 L581.5,108.27 L582,101.27 L582.5,104.34 L583,97.49 L583.5,112.19 L584,113.28 L584.5,115.96 L585,112.25 L585.5,119.08 L586,112.53 L586.5,111.67 L587,111.59 L587.5,110.92 L588,119.5 L588.5,114.56 L589,112.02 L589.5,112.7 L590,116.53 L590.5,112.24 L591,115.77 L591.5,114.3 L592,121 L592.5,120.25 L593,108.36 L593.5,114.42 L594,118.66 L594.5,113.44 L595,119.46 L595.5,117.44 L596,118.82 L596.5,115.99 L597,117.87 L597.5,119.08 L598,110.17 L598.5,112.92 L599,112.67 L599.5,125.13 L600,119.08 L600.5,119.59 L601,119.64 L601.5,115.99 L602,115.17 L602.5,122.48 L603,117.21 L603.5,126.06 L604,120.08 L604.5,119.78 L605,118.55 L605.5,119.33 L606,119.94 L606.5,126.6 L607,130.28 L607.5,115.13 L608,121.41 L608.5,123.5 L609,116.6 L609.5,117.89 L610,118.77 L610.5,110.44 L611,123.78 L611.5,120.87 L612,120.77 L612.5,121.63 L613,122.45 L613.5,131.41 L614,135.34 L614.5,125.25 L615,119.56 L615.5,123.39 L616,120.65 L616.5,121.46 L617,118.37 L617.5,118.85 L618,112.66 L618.5,125.69 L619,124.59 L619.5,119.93 L620,124.21 L620.5,112.33 L621,127.07 L621.5,123.07 L622,124.57 L622.5,128.32 L623,121.82 L623.5,127.69 L624,121.98 L624.5,126.19 L625,122.36 L625.5,125.42 L626,130.27 L626.5,121.71 L627,121.99 L627.5,123.27 L628,125.96 L628.5,116.27 L629,122.58 L629.5,116.72 L630,122.49 L630.5,118.81 L631,123.09 L631.5,125.54 L632,121.68 L632.5,122.9 L633,118.2 L633.5,126.58 L634,122.92 L634.5,135.86 L635,130.35 L635.5,122.72 L636,124.82 L636.5,126.61 L637,129.51 L637.5,119.88 L638,126.37 L638.5,136.1 L639,126.47 L639.5,127.8 L640,127.01 L640.5,122.36 L641,130.94 L641.5,128.33 L642,128 L642.5,130.31 L643,130.63 L643.5,120.15 L644,129.61 L644.5,125.51 L645,128.52 L645.5,125.19 L646,120.45 L646.5,131.9 L647,128.25 L647.5,127.28 L648,127.36 L648.5,128.89 L649,128.61 L649.5,119.61 L650,125.29 L650.5,128.07 L651,131.96 L651.5,134.43 L652,130.02 L652.5,136.82 L653,129.84 L653.5,131.45 L654,127.63 L654.5,127.46 L655,135.35 L655.5,129.12 L656,129.66 L656.5,134.54 L657,136.76 L657.5,104.91 L658,129.67 L658.5,130.42 L659,137.4 L659.5,139.93 L660,130.52 L660.5,132.19 L661,134.12 L661.5,135.27 L662,129.82 L662.5,134.31 L663,128.55 L663.5,121.24 L664,126.16 L664.5,132.2 L665,134.39 L665.5,123.13 L666,134.16 L666.5,131.57 L667,119.21 L667.5,133.9 L668,138.12 L668.5,120.93 L669,134.88 L669.5,145.74 L670,137.42 L670.5,133.29 L671,131.43 L671.5,132.82 L672,135.9 L672.5,133.2 L673,132.71 L673.5,127.32 L674,134.45 L674.5,132.85 L675,139.53" stroke="#7c7c7c" stroke-width="0.7"/>
<path d="M507,142 L507.5,141.31 L508,140.14 L508.5,139.83 L509,142.1 L509.5,141.66 L510,143.5 L510.5,140.17 L511,142.47 L511.5,140.37 L512,137.8 L512.5,137.66 L513,136.12 L513.5,132.99 L514,132.24 L514.5,131.21 L515,132.48 L515.5,125.47 L516,113.76 L516.5,97.9 L517,96.61 L517.5,106.65 L518,86.75 L518.5,77.45 L519,66.15 L519.5,63.35 L520,34.41 L520.5,24.59 L521,23.92 L521.5,34.85 L522,36.81 L522.5,31.41 L523,23.43 L523.5,10.24 L524,29.88 L524.5,19.37 L525,22.64 L525.5,23.04 L526,20.2 L526.5,19.12 L527,6.37 L527.5,17.39 L528,33.9 L528.5,31.94 L529,45.09 L529.5,21.77 L530,50.96 L530.5,42.31 L531,43.83 L531.5,40.5 L532,42.35 L532.5,38.59 L533,60 L533.5,52.53 L534,61.6 L534.5,75.55 L535,53.3 L535.5,58.39 L536,58.92 L536.5,70.68 L537,65.06 L537.5,66.47 L538,71.63 L538.5,66.74 L539,83.2 L539.5,62.45 L540,79.11 L540.5,80.97 L541,63.62 L541.5,78.63 L542,75.27 L542.5,80.13 L543,66.46 L543.5,77.2 L544,69.53 L544.5,74.71 L545,85.09 L545.5,77.49 L546,64.03 L546.5,70.48 L547,72.92 L547.5,87.79 L548,77.18 L548.5,72.24 L549,90.19 L549.5,85.16 L550,86.31 L550.5,79.6 L551,94.3 L551.5,76.02 L552,73.95 L552.5,79.77 L553,82.17 L553.5,86.93 L554,93.15 L554.5,84.48 L555,85.76 L555.5,103.3 L556,90.88 L556.5,98.05 L557,91.49 L557.5,84.25 L558,102.96 L558.5,98.3 L559,89.53 L559.5,99.25 L560,92.05 L560.5,95.82 L561,90.2 L561.5,90.24 L562,86.59 L562.5,96.86 L563,94.32 L563.5,94.84 L564,90.2 L564.5,82.92 L565,93.7 L565.5,100.23 L566,99.59 L566.5,94.38 L567,98.21 L567.5,108.58 L568,99.68 L568.5,110.56 L569,102.04 L569.5,107.25 L570,97.29 L570.5,106.87 L571,94.24 L571.5,102.28 L572,99.39 L572.5,90.64 L573,94.33 L573.5,108.03 L574,104.81 L574.5,109.35 L575,103.69 L575.5,87.4 L576,104.44 L576.5,100.32 L577,100.91 L577.5,91.37 L578,100 L578.5,99.22 L579,111 L579.5,107.05 L580,101.53 L580.5,102.96 L581,110.43 L581.5,107.57 L582,106.82 L582.5,99.7 L583,104 L583.5,100.62 L584,96.84 L584.5,111.41 L585,104.62 L585.5,105.15 L586,102.57 L586.5,103.89 L587,118.39 L587.5,120.43 L588,112.85 L588.5,102.11 L589,109.41 L589.5,109.79 L590,116.31 L590.5,109.09 L591,104.52 L591.5,116.61 L592,108.93 L592.5,116.87 L593,113.18 L593.5,111.77 L594,111.15 L594.5,114.59 L595,108.25 L595.5,106.38 L596,101.91 L596.5,117.04 L597,113.95 L597.5,114.83 L598,112.17 L598.5,120.17 L599,107.74 L599.5,118.41 L600,108.9 L600.5,111 L601,107.62 L601.5,114.03 L602,112.47 L602.5,116.07 L603,111.52 L603.5,107.96 L604,117.3 L604.5,120.82 L605,118.42 L605.5,114.92 L606,117.2 L606.5,107.66 L607,114.1 L607.5,121.11 L608,118.04 L608.5,112.16 L609,120.12 L609.5,115.74 L610,119.8 L610.5,110.2 L611,114.34 L611.5,118.33 L612,118.35 L612.5,119.61 L613,117.18 L613.5,116.46 L614,118.83 L614.5,121.48 L615,110.94 L615.5,116.41 L616,117.06 L616.5,118.8 L617,122.72 L617.5,112.45 L618,120.84 L618.5,110.94 L619,115.41 L619.5,116.56 L620,117.8 L620.5,116.44 L621,117 L621.5,117.89 L622,118.33 L622.5,111.6 L623,113.67 L623.5,118 L624,122.32 L624.5,124.5 L625,132.61 L625.5,120.88 L626,117.15 L626.5,121.43 L627,123.71 L627.5,121.51 L628,116.51 L628.5,120.73 L629,121.11 L629.5,115.42 L630,116.4 L630.5,126.73 L631,112.34 L631.5,122.6 L632,120.9 L632.5,123.27 L633,124.8 L633.5,124.97 L634,127.74 L634.5,120.23 L635,131.01 L635.5,129.71 L636,122.59 L636.5,126.25 L637,112.86 L637.5,119.52 L638,122.63 L638.5,128.27 L639,127.1 L639.5,128.12 L640,129.63 L640.5,128.19 L641,123.69 L641.5,124.52 L642,125.96 L642.5,123.89 L643,123.53 L643.5,132.16 L644,126.69 L644.5,132.49 L645,121.81 L645.5,124.86 L646,123.38 L646.5,123.67 L647,123.93 L647.5,124.97 L648,123.83 L648.5,132.88 L649,128.48 L649.5,122.92 L650,123.82 L650.5,129.05 L651,128.36 L651.5,123.89 L652,130.06 L652.5,120.85 L653,124.74 L653.5,133.5 L654,116.56 L654.5,126.09 L655,130.85 L655.5,126.51 L656,124.11 L656.5,123.77 L657,119.22 L657.5,122.25 L658,127.75 L658.5,125.36 L659,127.6 L659.5,127.14 L660,128.9 L660.5,121.46 L661,126.76 L661.5,126.72 L662,126.9 L662.5,124.75 L663,119.82 L663.5,130.74 L664,131.51 L664.5,137.55 L665,131.33 L665.5,134.88 L666,130.94 L666.5,127.28 L667,130.69 L667.5,124.42 L668,129.85 L668.5,128.57 L669,125.04 L669.5,133.75 L670,133.41 L670.5,130.98 L671,132.38 L671.5,135.58 L672,128.9 L672.5,124.35 L673,125.91 L673.5,132.19 L674,130.48 L674.5,124.06 L675,134.68" stroke="#f7a04f" stroke-width="0.7"/>
<path d="M507,145.5 L507.5,145.48 L508,145.41 L508.5,145.32 L509,145.17 L509.5,144.86 L510,144.42 L510.5,143.86 L511,143.18 L511.5,142.42 L512,141.58 L512.5,140.56 L513,139.16 L513.5,137.36 L514,135.18 L514.5,132.62 L515,129.51 L515.5,124.68 L516,118.74 L516.5,112.74 L517,106.63 L517.5,99.24 L518,87.74 L518.5,77.05 L519,69.84 L519.5,60.9 L520,51.02 L520.5,44.45 L521,39.26 L521.5,34.85 L522,30.75 L522.5,27.44 L523,25.3 L523.5,23.54 L524,22.63 L524.5,22.8 L525,23.47 L525.5,24.41 L526,25.43 L526.5,26.79 L527,28.47 L527.5,30.31 L528,32.2 L528.5,34.19 L529,36.41 L529.5,38.76 L530,41.18 L530.5,43.57 L531,45.87 L531.5,47.99 L532,49.85 L532.5,51.59 L533,53.27 L533.5,54.9 L534,56.48 L534.5,58 L535,59.47 L535.5,60.87 L536,62.21 L536.5,63.49 L537,64.7 L537.5,65.84 L538,66.91 L538.5,67.92 L539,68.89 L539.5,69.81 L540,70.69 L540.5,71.54 L541,72.35 L541.5,73.14 L542,73.91 L542.5,74.66 L543,75.4 L543.5,76.12 L544,76.85 L544.5,77.57 L545,78.29 L545.5,79 L546,79.7 L546.5,80.39 L547,81.06 L547.5,81.71 L548,82.35 L548.5,82.97 L549,83.57 L549.5,84.15 L550,84.72 L550.5,85.29 L551,85.85 L551.5,86.4 L552,86.94 L552.5,87.48 L553,88.01 L553.5,88.53 L554,89.04 L554.5,89.54 L555,90.03 L555.5,90.51 L556,90.98 L556.5,91.44 L557,91.89 L557.5,92.33 L558,92.75 L558.5,93.16 L559,93.57 L559.5,93.97 L560,94.36 L560.5,94.74 L561,95.11 L561.5,95.48 L562,95.84 L562.5,96.2 L563,96.54 L563.5,96.88 L564,97.22 L564.5,97.55 L565,97.87 L565.5,98.19 L566,98.5 L566.5,98.8 L567,99.1 L567.5,99.4 L568,99.69 L568.5,99.97 L569,100.25 L569.5,100.52 L570,100.79 L570.5,101.05 L571,101.31 L571.5,101.56 L572,101.81 L572.5,102.06 L573,102.3 L573.5,102.54 L574,102.78 L574.5,103.02 L575,103.25 L575.5,103.49 L576,103.72 L576.5,103.95 L577,104.19 L577.5,104.42 L578,104.65 L578.5,104.88 L579,105.11 L579.5,105.33 L580,105.56 L580.5,105.78 L581,106 L581.5,106.22 L582,106.43 L582.5,106.65 L583,106.86 L583.5,107.07 L584,107.28 L584.5,107.48 L585,107.68 L585.5,107.88 L586,108.08 L586.5,108.27 L587,108.46 L587.5,108.64 L588,108.82 L588.5,108.99 L589,109.17 L589.5,109.34 L590,109.51 L590.5,109.68 L591,109.85 L591.5,110.02 L592,110.2 L592.5,110.37 L593,110.55 L593.5,110.73 L594,110.92 L594.5,111.11 L595,111.3 L595.5,111.5 L596,111.71 L596.5,111.93 L597,112.16 L597.5,112.38 L598,112.62 L598.5,112.86 L599,113.09 L599.5,113.33 L600,113.57 L600.5,113.81 L601,114.05 L601.5,114.28 L602,114.5 L602.5,114.72 L603,114.94 L603.5,115.14 L604,115.34 L604.5,115.53 L605,115.7 L605.5,115.87 L606,116.03 L606.5,116.18 L607,116.34 L607.5,116.48 L608,116.63 L608.5,116.77 L609,116.91 L609.5,117.04 L610,117.18 L610.5,117.31 L611,117.44 L611.5,117.56 L612,117.69 L612.5,117.81 L613,117.94 L613.5,118.06 L614,118.18 L614.5,118.3 L615,118.42 L615.5,118.55 L616,118.67 L616.5,118.79 L617,118.92 L617.5,119.05 L618,119.17 L618.5,119.3 L619,119.43 L619.5,119.56 L620,119.69 L620.5,119.82 L621,119.95 L621.5,120.08 L622,120.21 L622.5,120.34 L623,120.47 L623.5,120.6 L624,120.72 L624.5,120.85 L625,120.98 L625.5,121.1 L626,121.23 L626.5,121.36 L627,121.48 L627.5,121.6 L628,121.73 L628.5,121.85 L629,121.97 L629.5,122.09 L630,122.21 L630.5,122.33 L631,122.45 L631.5,122.57 L632,122.69 L632.5,122.8 L633,122.92 L633.5,123.04 L634,123.15 L634.5,123.26 L635,123.38 L635.5,123.49 L636,123.6 L636.5,123.72 L637,123.83 L637.5,123.94 L638,124.05 L638.5,124.16 L639,124.27 L639.5,124.38 L640,124.49 L640.5,124.59 L641,124.7 L641.5,124.81 L642,124.91 L642.5,125.02 L643,125.13 L643.5,125.23 L644,125.34 L644.5,125.44 L645,125.55 L645.5,125.65 L646,125.76 L646.5,125.87 L647,125.97 L647.5,126.08 L648,126.18 L648.5,126.29 L649,126.4 L649.5,126.5 L650,126.61 L650.5,126.71 L651,126.81 L651.5,126.91 L652,127.02 L652.5,127.12 L653,127.21 L653.5,127.31 L654,127.41 L654.5,127.5 L655,127.59 L655.5,127.68 L656,127.77 L656.5,127.85 L657,127.94 L657.5,128.02 L658,128.1 L658.5,128.17 L659,128.25 L659.5,128.33 L660,128.41 L660.5,128.48 L661,128.56 L661.5,128.63 L662,128.71 L662.5,128.78 L663,128.85 L663.5,128.93 L664,129 L664.5,129.07 L665,129.14 L665.5,129.2 L666,129.27 L666.5,129.34 L667,129.4 L667.5,129.47 L668,129.53 L668.5,129.59 L669,129.66 L669.5,129.72 L670,129.78 L670.5,129.83 L671,129.89 L671.5,129.95 L672,130 L672.5,130.05 L673,130.11 L673.5,130.16 L674,130.21 L674.5,130.25 L675,130.3" stroke="#ff0000" stroke-width="1.8"/>
<path d="M507,145.5 L507.5,145.48 L508,145.41 L508.5,145.32 L509,145.17 L509.5,144.86 L510,144.42 L510.5,143.86 L511,143.18 L511.5,142.42 L512,141.58 L512.5,140.55 L513,139.1 L513.5,137.26 L514,135.07 L514.5,132.55 L515,129.64 L515.5,125.52 L516,120.48 L516.5,115.1 L517,109.72 L517.5,103.62 L518,95.53 L518.5,82.63 L519,74.18 L519.5,66.7 L520,55.47 L520.5,46.6 L521,40.53 L521.5,35.7 L522,31.5 L522.5,28.02 L523,25.65 L523.5,23.7 L524,22.64 L524.5,22.85 L525,23.69 L525.5,24.78 L526,26.04 L526.5,27.73 L527,29.7 L527.5,31.78 L528,33.97 L528.5,36.43 L529,39.07 L529.5,41.8 L530,44.51 L530.5,47.11 L531,49.5 L531.5,51.74 L532,53.96 L532.5,56.14 L533,58.25 L533.5,60.29 L534,62.23 L534.5,64.06 L535,65.75 L535.5,67.31 L536,68.78 L536.5,70.18 L537,71.52 L537.5,72.8 L538,74.02 L538.5,75.18 L539,76.27 L539.5,77.31 L540,78.3 L540.5,79.25 L541,80.17 L541.5,81.08 L542,81.96 L542.5,82.83 L543,83.67 L543.5,84.48 L544,85.28 L544.5,86.05 L545,86.8 L545.5,87.52 L546,88.22 L546.5,88.9 L547,89.55 L547.5,90.17 L548,90.77 L548.5,91.34 L549,91.89 L549.5,92.41 L550,92.92 L550.5,93.4 L551,93.88 L551.5,94.34 L552,94.78 L552.5,95.21 L553,95.63 L553.5,96.04 L554,96.43 L554.5,96.82 L555,97.19 L555.5,97.55 L556,97.9 L556.5,98.24 L557,98.57 L557.5,98.9 L558,99.21 L558.5,99.52 L559,99.82 L559.5,100.11 L560,100.39 L560.5,100.66 L561,100.92 L561.5,101.18 L562,101.43 L562.5,101.68 L563,101.92 L563.5,102.16 L564,102.39 L564.5,102.62 L565,102.85 L565.5,103.08 L566,103.31 L566.5,103.54 L567,103.77 L567.5,104 L568,104.23 L568.5,104.47 L569,104.7 L569.5,104.93 L570,105.16 L570.5,105.39 L571,105.61 L571.5,105.84 L572,106.06 L572.5,106.28 L573,106.5 L573.5,106.72 L574,106.93 L574.5,107.14 L575,107.35 L575.5,107.56 L576,107.76 L576.5,107.96 L577,108.16 L577.5,108.35 L578,108.54 L578.5,108.73 L579,108.91 L579.5,109.09 L580,109.27 L580.5,109.45 L581,109.63 L581.5,109.8 L582,109.98 L582.5,110.15 L583,110.32 L583.5,110.5 L584,110.67 L584.5,110.84 L585,111.02 L585.5,111.19 L586,111.37 L586.5,111.55 L587,111.72 L587.5,111.89 L588,112.07 L588.5,112.24 L589,112.41 L589.5,112.58 L590,112.75 L590.5,112.92 L591,113.09 L591.5,113.27 L592,113.44 L592.5,113.61 L593,113.79 L593.5,113.96 L594,114.14 L594.5,114.32 L595,114.5 L595.5,114.68 L596,114.87 L596.5,115.07 L597,115.27 L597.5,115.47 L598,115.68 L598.5,115.88 L599,116.09 L599.5,116.29 L600,116.5 L600.5,116.7 L601,116.9 L601.5,117.1 L602,117.29 L602.5,117.48 L603,117.66 L603.5,117.83 L604,118 L604.5,118.15 L605,118.3 L605.5,118.44 L606,118.57 L606.5,118.7 L607,118.83 L607.5,118.95 L608,119.07 L608.5,119.19 L609,119.3 L609.5,119.42 L610,119.52 L610.5,119.63 L611,119.74 L611.5,119.84 L612,119.94 L612.5,120.04 L613,120.15 L613.5,120.25 L614,120.35 L614.5,120.45 L615,120.55 L615.5,120.65 L616,120.75 L616.5,120.86 L617,120.96 L617.5,121.07 L618,121.18 L618.5,121.29 L619,121.4 L619.5,121.51 L620,121.63 L620.5,121.74 L621,121.85 L621.5,121.97 L622,122.08 L622.5,122.2 L623,122.31 L623.5,122.43 L624,122.54 L624.5,122.66 L625,122.77 L625.5,122.88 L626,123 L626.5,123.11 L627,123.22 L627.5,123.33 L628,123.44 L628.5,123.55 L629,123.65 L629.5,123.76 L630,123.86 L630.5,123.96 L631,124.06 L631.5,124.16 L632,124.25 L632.5,124.35 L633,124.44 L633.5,124.53 L634,124.62 L634.5,124.71 L635,124.8 L635.5,124.89 L636,124.98 L636.5,125.06 L637,125.15 L637.5,125.23 L638,125.32 L638.5,125.4 L639,125.49 L639.5,125.57 L640,125.66 L640.5,125.74 L641,125.83 L641.5,125.91 L642,126 L642.5,126.08 L643,126.17 L643.5,126.26 L644,126.35 L644.5,126.44 L645,126.53 L645.5,126.62 L646,126.71 L646.5,126.81 L647,126.9 L647.5,127 L648,127.09 L648.5,127.19 L649,127.29 L649.5,127.38 L650,127.48 L650.5,127.57 L651,127.67 L651.5,127.77 L652,127.86 L652.5,127.95 L653,128.05 L653.5,128.14 L654,128.23 L654.5,128.32 L655,128.41 L655.5,128.49 L656,128.58 L656.5,128.66 L657,128.74 L657.5,128.82 L658,128.89 L658.5,128.97 L659,129.04 L659.5,129.12 L660,129.19 L660.5,129.27 L661,129.34 L661.5,129.41 L662,129.49 L662.5,129.56 L663,129.63 L663.5,129.7 L664,129.77 L664.5,129.84 L665,129.91 L665.5,129.97 L666,130.04 L666.5,130.11 L667,130.17 L667.5,130.24 L668,130.3 L668.5,130.36 L669,130.43 L669.5,130.49 L670,130.55 L670.5,130.61 L671,130.67 L671.5,130.72 L672,130.78 L672.5,130.84 L673,130.89 L673.5,130.94 L674,131 L674.5,131.05 L675,131.1" stroke="#000" stroke-width="1.8"/>
</g>
<text x="0.3" y="208.5" font-size="16" font-weight="bold" fill="#000">d</text>
<rect x="35.6" y="212.0" width="167.7" height="135.5" fill="none" stroke="#8c8c8c" stroke-width="1.2"/>
<path d="M116.45,215.1 L119.65,209.4 M119.35,215.1 L122.7,209.4" stroke="#3a3a3a" stroke-width="0.95" fill="none" stroke-linecap="round"/>
<path d="M116.45,350.6 L119.65,344.9 M119.35,350.6 L122.7,344.9" stroke="#3a3a3a" stroke-width="0.95" fill="none" stroke-linecap="round"/>
<path d="M53.4,347.5 L53.4,345 M82.4,347.5 L82.4,345 M110.9,347.5 L110.9,345 M148.5,347.5 L148.5,345 M189.6,347.5 L189.6,345 " stroke="#707070" stroke-width="0.9" fill="none"/>
<path d="M37.9,347.5 L37.9,345.5 M67.5,347.5 L67.5,345.5 M96.4,347.5 L96.4,345.5 M127.5,347.5 L127.5,345.5 M168.9,347.5 L168.9,345.5 " stroke="#707070" stroke-width="0.9" fill="none"/>
<path d="M35.6,211.42 L38.6,211.42 M35.6,250.48 L38.6,250.48 M35.6,289.54 L38.6,289.54 M35.6,328.6 L38.6,328.6 " stroke="#707070" stroke-width="0.9" fill="none"/>
<path d="M35.6,230.95 L37.6,230.95 M35.6,270.01 L37.6,270.01 M35.6,309.07 L37.6,309.07 M35.6,348.13 L37.6,348.13 " stroke="#707070" stroke-width="0.9" fill="none"/>
<text x="53.05" y="363.6" font-size="11.3" text-anchor="middle" fill="#1a1a1a" >500</text>
<text x="82.2" y="363.6" font-size="11.3" text-anchor="middle" fill="#1a1a1a" >520</text>
<text x="110.6" y="363.6" font-size="11.3" text-anchor="middle" fill="#1a1a1a" >540</text>
<text x="148.9" y="363.6" font-size="11.3" text-anchor="middle" fill="#1a1a1a" >630</text>
<text x="189.6" y="363.6" font-size="11.3" text-anchor="middle" fill="#1a1a1a" >660</text>
<text x="117" y="378.6" font-size="11.3" text-anchor="middle" fill="#1a1a1a" >Wavelength (nm)</text>
<text x="31.3" y="216" font-size="10.9" text-anchor="end" fill="#1a1a1a" >0.6</text>
<text x="31.3" y="253.9" font-size="10.9" text-anchor="end" fill="#1a1a1a" >0.4</text>
<text x="31.3" y="293.2" font-size="10.9" text-anchor="end" fill="#1a1a1a" >0.2</text>
<text x="31.3" y="331.6" font-size="10.9" text-anchor="end" fill="#1a1a1a" >0</text>
<text x="1.7" y="279.8" font-size="12" font-family="Liberation Serif" font-style="italic" text-anchor="middle" dominant-baseline="central" transform="rotate(-90 1.7 279.8)" fill="#1a1a1a">&#961;</text>
<g font-family="Liberation Serif" fill="#1a1a1a">
<text x="150.3" y="242.9" font-size="11.2">I<tspan font-size="8" dy="3.6" font-style="italic">&#963;</tspan><tspan font-size="8">+</tspan></text>
<text x="169.5" y="244.8" font-size="13.5" text-anchor="middle">&#8722;</text>
<text x="176.1" y="242.9" font-size="11.2">I<tspan font-size="8" dy="3.6" font-style="italic">&#963;</tspan><tspan font-size="8">&#8722;</tspan></text>
<text x="149.2" y="263.7" font-size="11.2">I<tspan font-size="8" dy="3.6" font-style="italic">&#963;</tspan><tspan font-size="8">+</tspan></text>
<text x="168.2" y="265.1" font-size="13" text-anchor="middle">+</text>
<text x="175.0" y="263.7" font-size="11.2">I<tspan font-size="8" dy="3.6" font-style="italic">&#963;</tspan><tspan font-size="8">&#8722;</tspan></text>
</g>
<path d="M146,252.5 L187.3,252.5" stroke="#444" stroke-width="0.9"/>
<g clip-path="url(#clipD1)">
<circle cx="41.1" cy="244.9" r="2.55" fill="url(#sph)"/>
<circle cx="42.6" cy="263.5" r="2.55" fill="url(#sph)"/>
<circle cx="50.2" cy="260.6" r="2.55" fill="url(#sph)"/>
<circle cx="58" cy="258.3" r="2.55" fill="url(#sph)"/>
<circle cx="58.7" cy="259.9" r="2.55" fill="url(#sph)"/>
<circle cx="63.5" cy="257.5" r="2.55" fill="url(#sph)"/>
<circle cx="69.4" cy="255.9" r="2.55" fill="url(#sph)"/>
<circle cx="78.8" cy="258.8" r="2.55" fill="url(#sph)"/>
<circle cx="85.1" cy="257.5" r="2.55" fill="url(#sph)"/>
<circle cx="90.1" cy="256.2" r="2.55" fill="url(#sph)"/>
<circle cx="95" cy="262.2" r="2.55" fill="url(#sph)"/>
<circle cx="59.1" cy="263.8" r="2.55" fill="url(#sph)"/>
<circle cx="56.8" cy="266.9" r="2.55" fill="url(#sph)"/>
<circle cx="61.5" cy="267.7" r="2.55" fill="url(#sph)"/>
<circle cx="65.4" cy="266.9" r="2.55" fill="url(#sph)"/>
<circle cx="72.5" cy="264.9" r="2.55" fill="url(#sph)"/>
<circle cx="74.9" cy="264.3" r="2.55" fill="url(#sph)"/>
<circle cx="88.2" cy="266.9" r="2.55" fill="url(#sph)"/>
<circle cx="86.6" cy="270.1" r="2.55" fill="url(#sph)"/>
<circle cx="52.1" cy="270.1" r="2.55" fill="url(#sph)"/>
<circle cx="47.4" cy="272.1" r="2.55" fill="url(#sph)"/>
<circle cx="56" cy="271.6" r="2.55" fill="url(#sph)"/>
<circle cx="62.3" cy="270.1" r="2.55" fill="url(#sph)"/>
<circle cx="67" cy="270.9" r="2.55" fill="url(#sph)"/>
<circle cx="70.9" cy="270.1" r="2.55" fill="url(#sph)"/>
<circle cx="73.3" cy="268.5" r="2.55" fill="url(#sph)"/>
<circle cx="44.2" cy="275.6" r="2.55" fill="url(#sph)"/>
<circle cx="48.1" cy="274.8" r="2.55" fill="url(#sph)"/>
<circle cx="51.3" cy="277.1" r="2.55" fill="url(#sph)"/>
<circle cx="45.8" cy="278.4" r="2.55" fill="url(#sph)"/>
<circle cx="60.4" cy="278.7" r="2.55" fill="url(#sph)"/>
<circle cx="66.2" cy="274.8" r="2.55" fill="url(#sph)"/>
<circle cx="68.3" cy="277.9" r="2.55" fill="url(#sph)"/>
<circle cx="71.7" cy="276.7" r="2.55" fill="url(#sph)"/>
<circle cx="79.6" cy="273.2" r="2.55" fill="url(#sph)"/>
<circle cx="83.5" cy="275.6" r="2.55" fill="url(#sph)"/>
<circle cx="76.1" cy="277.9" r="2.55" fill="url(#sph)"/>
<circle cx="81.1" cy="277.9" r="2.55" fill="url(#sph)"/>
<circle cx="85.9" cy="277.9" r="2.55" fill="url(#sph)"/>
<circle cx="89" cy="278.7" r="2.55" fill="url(#sph)"/>
<circle cx="92.1" cy="279.5" r="2.55" fill="url(#sph)"/>
<circle cx="95.8" cy="275.3" r="2.55" fill="url(#sph)"/>
<circle cx="102.4" cy="274.5" r="2.55" fill="url(#sph)"/>
<circle cx="104.7" cy="273.7" r="2.55" fill="url(#sph)"/>
<circle cx="97.3" cy="280" r="2.55" fill="url(#sph)"/>
<circle cx="113.4" cy="280.6" r="2.55" fill="url(#sph)"/>
<circle cx="77.2" cy="280.3" r="2.55" fill="url(#sph)"/>
<circle cx="79.6" cy="281.1" r="2.55" fill="url(#sph)"/>
<circle cx="77.2" cy="284.2" r="2.55" fill="url(#sph)"/>
<circle cx="81.1" cy="285" r="2.55" fill="url(#sph)"/>
<circle cx="84.3" cy="286.1" r="2.55" fill="url(#sph)"/>
<circle cx="90.6" cy="283.4" r="2.55" fill="url(#sph)"/>
<circle cx="93.4" cy="284.7" r="2.55" fill="url(#sph)"/>
<circle cx="109.4" cy="285" r="2.55" fill="url(#sph)"/>
<circle cx="41.1" cy="288.9" r="2.55" fill="url(#sph)"/>
<circle cx="48.9" cy="287.8" r="2.55" fill="url(#sph)"/>
<circle cx="53.6" cy="286.6" r="2.55" fill="url(#sph)"/>
<circle cx="54.4" cy="285.8" r="2.55" fill="url(#sph)"/>
<circle cx="40.6" cy="289.6" r="2.55" fill="url(#sph)"/>
<circle cx="41.9" cy="289.1" r="2.55" fill="url(#sph)"/>
<circle cx="49.2" cy="288" r="2.55" fill="url(#sph)"/>
<circle cx="53.4" cy="287" r="2.55" fill="url(#sph)"/>
<circle cx="55.1" cy="286.3" r="2.55" fill="url(#sph)"/>
<circle cx="53.8" cy="292.9" r="2.55" fill="url(#sph)"/>
<circle cx="38.6" cy="298.5" r="2.55" fill="url(#sph)"/>
<circle cx="43.6" cy="296.9" r="2.55" fill="url(#sph)"/>
<circle cx="46.7" cy="301.2" r="2.55" fill="url(#sph)"/>
<circle cx="45" cy="315" r="2.55" fill="url(#sph)"/>
<circle cx="36" cy="328.2" r="2.55" fill="url(#sph)"/>
<circle cx="36.5" cy="338.1" r="2.55" fill="url(#sph)"/>
<circle cx="37" cy="343" r="2.55" fill="url(#sph)"/>
<circle cx="81.8" cy="285.8" r="2.55" fill="url(#sph)"/>
<circle cx="84.3" cy="287" r="2.55" fill="url(#sph)"/>
<circle cx="91.7" cy="285" r="2.55" fill="url(#sph)"/>
<circle cx="93.3" cy="285.5" r="2.55" fill="url(#sph)"/>
<circle cx="109.5" cy="285.8" r="2.55" fill="url(#sph)"/>
<circle cx="91.7" cy="293.2" r="2.55" fill="url(#sph)"/>
<circle cx="94.2" cy="291.9" r="2.55" fill="url(#sph)"/>
<circle cx="101.1" cy="292.9" r="2.55" fill="url(#sph)"/>
<circle cx="105.2" cy="290.3" r="2.55" fill="url(#sph)"/>
<circle cx="108.5" cy="289.1" r="2.55" fill="url(#sph)"/>
<circle cx="114.3" cy="294.1" r="2.55" fill="url(#sph)"/>
<circle cx="112.6" cy="296.9" r="2.55" fill="url(#sph)"/>
<circle cx="87.6" cy="304" r="2.55" fill="url(#sph)"/>
<circle cx="96.3" cy="301" r="2.55" fill="url(#sph)"/>
<circle cx="102.9" cy="303.6" r="2.55" fill="url(#sph)"/>
<circle cx="106.2" cy="307.7" r="2.55" fill="url(#sph)"/>
<circle cx="111.8" cy="306.9" r="2.55" fill="url(#sph)"/>
<circle cx="98.3" cy="309.4" r="2.55" fill="url(#sph)"/>
<circle cx="100.7" cy="309.4" r="2.55" fill="url(#sph)"/>
<circle cx="107.3" cy="313" r="2.55" fill="url(#sph)"/>
<circle cx="110.6" cy="311.4" r="2.55" fill="url(#sph)"/>
<circle cx="115.9" cy="313" r="2.55" fill="url(#sph)"/>
<circle cx="99.1" cy="318.3" r="2.55" fill="url(#sph)"/>
<circle cx="99.9" cy="319.3" r="2.55" fill="url(#sph)"/>
<circle cx="106.8" cy="316.6" r="2.55" fill="url(#sph)"/>
<circle cx="103.7" cy="330.6" r="2.55" fill="url(#sph)"/>
<circle cx="114.8" cy="332" r="2.55" fill="url(#sph)"/>
<circle cx="116.9" cy="324.6" r="2.55" fill="url(#sph)"/>
<circle cx="115.9" cy="312.8" r="2.55" fill="url(#sph)"/>
<circle cx="116.4" cy="324.9" r="2.55" fill="url(#sph)"/>
<circle cx="114.8" cy="331.7" r="2.55" fill="url(#sph)"/>
</g>
<g clip-path="url(#clipD2)">
<circle cx="122.2" cy="308.1" r="2.55" fill="url(#sph)"/>
<circle cx="127.4" cy="304.1" r="2.55" fill="url(#sph)"/>
<circle cx="124.3" cy="318.3" r="2.55" fill="url(#sph)"/>
<circle cx="135.6" cy="315.9" r="2.55" fill="url(#sph)"/>
<circle cx="136.4" cy="319.9" r="2.55" fill="url(#sph)"/>
<circle cx="122.2" cy="330.1" r="2.55" fill="url(#sph)"/>
<circle cx="124.6" cy="330.9" r="2.55" fill="url(#sph)"/>
<circle cx="129.6" cy="327.7" r="2.55" fill="url(#sph)"/>
<circle cx="121.4" cy="335.6" r="2.55" fill="url(#sph)"/>
<circle cx="127.7" cy="341.9" r="2.55" fill="url(#sph)"/>
<circle cx="132.4" cy="343.4" r="2.55" fill="url(#sph)"/>
<circle cx="145" cy="342.7" r="2.55" fill="url(#sph)"/>
<circle cx="175.7" cy="311.7" r="2.55" fill="url(#sph)"/>
<circle cx="182.3" cy="313.9" r="2.55" fill="url(#sph)"/>
<circle cx="191.8" cy="294.7" r="2.55" fill="url(#sph)"/>
<circle cx="192.9" cy="308.4" r="2.55" fill="url(#sph)"/>
<circle cx="193.7" cy="315.9" r="2.55" fill="url(#sph)"/>
<circle cx="194.5" cy="317" r="2.55" fill="url(#sph)"/>
<circle cx="178.8" cy="320.3" r="2.55" fill="url(#sph)"/>
<circle cx="186.2" cy="322.2" r="2.55" fill="url(#sph)"/>
<circle cx="189" cy="321.1" r="2.55" fill="url(#sph)"/>
<circle cx="190.6" cy="322.2" r="2.55" fill="url(#sph)"/>
<circle cx="198.1" cy="325.8" r="2.55" fill="url(#sph)"/>
<circle cx="202.9" cy="328.2" r="2.55" fill="url(#sph)"/>
<circle cx="198.9" cy="330.1" r="2.55" fill="url(#sph)"/>
<circle cx="202.4" cy="334" r="2.55" fill="url(#sph)"/>
<circle cx="196.6" cy="339.5" r="2.55" fill="url(#sph)"/>
<circle cx="202.4" cy="341.9" r="2.55" fill="url(#sph)"/>
<circle cx="181.2" cy="339.5" r="2.55" fill="url(#sph)"/>
<circle cx="191.4" cy="326.9" r="2.55" fill="url(#sph)"/>
<circle cx="170.2" cy="324.9" r="2.55" fill="url(#sph)"/>
<circle cx="174.1" cy="327.7" r="2.55" fill="url(#sph)"/>
<circle cx="125.6" cy="318.2" r="2.55" fill="url(#sph)"/>
<circle cx="129.7" cy="328.1" r="2.55" fill="url(#sph)"/>
<circle cx="126.2" cy="329.9" r="2.55" fill="url(#sph)"/>
<circle cx="125.6" cy="331.6" r="2.55" fill="url(#sph)"/>
<circle cx="130.3" cy="334.5" r="2.55" fill="url(#sph)"/>
<circle cx="131.4" cy="337.4" r="2.55" fill="url(#sph)"/>
<circle cx="134.3" cy="338" r="2.55" fill="url(#sph)"/>
<circle cx="137.8" cy="331.6" r="2.55" fill="url(#sph)"/>
<circle cx="140.2" cy="331" r="2.55" fill="url(#sph)"/>
<circle cx="143.7" cy="328.1" r="2.55" fill="url(#sph)"/>
<circle cx="144.3" cy="331.6" r="2.55" fill="url(#sph)"/>
<circle cx="142.5" cy="335.1" r="2.55" fill="url(#sph)"/>
<circle cx="139.6" cy="337.4" r="2.55" fill="url(#sph)"/>
<circle cx="140.2" cy="339.8" r="2.55" fill="url(#sph)"/>
<circle cx="128.3" cy="341.5" r="2.55" fill="url(#sph)"/>
<circle cx="132.6" cy="343.9" r="2.55" fill="url(#sph)"/>
<circle cx="145.4" cy="342.7" r="2.55" fill="url(#sph)"/>
<circle cx="148.4" cy="329.9" r="2.55" fill="url(#sph)"/>
<circle cx="147.8" cy="333.4" r="2.55" fill="url(#sph)"/>
<circle cx="150.1" cy="336.3" r="2.55" fill="url(#sph)"/>
<circle cx="151.9" cy="338" r="2.55" fill="url(#sph)"/>
<circle cx="153.6" cy="331" r="2.55" fill="url(#sph)"/>
<circle cx="155.4" cy="333.9" r="2.55" fill="url(#sph)"/>
<circle cx="156.5" cy="328.7" r="2.55" fill="url(#sph)"/>
<circle cx="158.9" cy="329.9" r="2.55" fill="url(#sph)"/>
<circle cx="160" cy="333.9" r="2.55" fill="url(#sph)"/>
<circle cx="161.2" cy="336.9" r="2.55" fill="url(#sph)"/>
<circle cx="162.4" cy="328.1" r="2.55" fill="url(#sph)"/>
<circle cx="163.5" cy="332.2" r="2.55" fill="url(#sph)"/>
<circle cx="163" cy="340.4" r="2.55" fill="url(#sph)"/>
<circle cx="165.9" cy="328.7" r="2.55" fill="url(#sph)"/>
<circle cx="167" cy="334.5" r="2.55" fill="url(#sph)"/>
<circle cx="169.4" cy="325.8" r="2.55" fill="url(#sph)"/>
<circle cx="170.5" cy="324.6" r="2.55" fill="url(#sph)"/>
<circle cx="167.6" cy="338.6" r="2.55" fill="url(#sph)"/>
<circle cx="171.7" cy="331" r="2.55" fill="url(#sph)"/>
<circle cx="172.9" cy="335.1" r="2.55" fill="url(#sph)"/>
<circle cx="174.1" cy="328.1" r="2.55" fill="url(#sph)"/>
<circle cx="176.4" cy="332.2" r="2.55" fill="url(#sph)"/>
<circle cx="177" cy="335.7" r="2.55" fill="url(#sph)"/>
<circle cx="172.9" cy="338" r="2.55" fill="url(#sph)"/>
<circle cx="179.9" cy="333.4" r="2.55" fill="url(#sph)"/>
<circle cx="181.1" cy="339.2" r="2.55" fill="url(#sph)"/>
<circle cx="183.4" cy="331" r="2.55" fill="url(#sph)"/>
<circle cx="184.6" cy="327.5" r="2.55" fill="url(#sph)"/>
<circle cx="186.9" cy="328.7" r="2.55" fill="url(#sph)"/>
<circle cx="185.7" cy="334.5" r="2.55" fill="url(#sph)"/>
<circle cx="189.2" cy="336.3" r="2.55" fill="url(#sph)"/>
<circle cx="192.2" cy="333.9" r="2.55" fill="url(#sph)"/>
<circle cx="191" cy="327" r="2.55" fill="url(#sph)"/>
<circle cx="185.7" cy="321.7" r="2.55" fill="url(#sph)"/>
<circle cx="188.6" cy="321.1" r="2.55" fill="url(#sph)"/>
<circle cx="190.4" cy="322.3" r="2.55" fill="url(#sph)"/>
<circle cx="178.7" cy="321.1" r="2.55" fill="url(#sph)"/>
<circle cx="175.8" cy="311.8" r="2.55" fill="url(#sph)"/>
<circle cx="182.2" cy="314.1" r="2.55" fill="url(#sph)"/>
<circle cx="194.8" cy="317.6" r="2.55" fill="url(#sph)"/>
<circle cx="198.6" cy="326.8" r="2.55" fill="url(#sph)"/>
<circle cx="199.2" cy="329.9" r="2.55" fill="url(#sph)"/>
<circle cx="200.9" cy="333.9" r="2.55" fill="url(#sph)"/>
<circle cx="203.2" cy="328.7" r="2.55" fill="url(#sph)"/>
<circle cx="196.8" cy="339.8" r="2.55" fill="url(#sph)"/>
<circle cx="202.7" cy="341.5" r="2.55" fill="url(#sph)"/>
<circle cx="151.9" cy="332.8" r="2.55" fill="url(#sph)"/>
<circle cx="157.7" cy="332.2" r="2.55" fill="url(#sph)"/>
<circle cx="149.5" cy="328.7" r="2.55" fill="url(#sph)"/>
<circle cx="136.7" cy="334.5" r="2.55" fill="url(#sph)"/>
<circle cx="146" cy="336.9" r="2.55" fill="url(#sph)"/>
<circle cx="155.4" cy="338" r="2.55" fill="url(#sph)"/>
<circle cx="158.9" cy="338" r="2.55" fill="url(#sph)"/>
</g>
<text x="225.1" y="209" font-size="16" font-weight="bold" fill="#000">e</text>
<rect x="266.7" y="210.4" width="167.8" height="135.9" fill="none" stroke="#3c3c3c" stroke-width="1.0"/>
<path d="M294.5,346.3 L294.5,343.3 M329.5,346.3 L329.5,343.3 M364.5,346.3 L364.5,343.3 M399.5,346.3 L399.5,343.3 " stroke="#3c3c3c" stroke-width="0.9" fill="none"/>
<path d="M277,346.3 L277,344.3 M312,346.3 L312,344.3 M347,346.3 L347,344.3 M382,346.3 L382,344.3 M417,346.3 L417,344.3 " stroke="#3c3c3c" stroke-width="0.9" fill="none"/>
<path d="M266.7,244.55 L269.7,244.55 M266.7,278.4 L269.7,278.4 M266.7,312.25 L269.7,312.25 " stroke="#3c3c3c" stroke-width="0.9" fill="none"/>
<path d="M266.7,227.62 L268.7,227.62 M266.7,261.47 L268.7,261.47 M266.7,295.32 L268.7,295.32 M266.7,329.17 L268.7,329.17 " stroke="#3c3c3c" stroke-width="0.9" fill="none"/>
<text x="294.5" y="360.1" font-size="11.3" text-anchor="middle" fill="#1a1a1a" >20</text>
<text x="329.5" y="360.1" font-size="11.3" text-anchor="middle" fill="#1a1a1a" >30</text>
<text x="364.5" y="360.1" font-size="11.3" text-anchor="middle" fill="#1a1a1a" >40</text>
<text x="399.5" y="360.1" font-size="11.3" text-anchor="middle" fill="#1a1a1a" >50</text>
<text x="434.5" y="360.1" font-size="11.3" text-anchor="middle" fill="#1a1a1a" >60</text>
<text x="261.8" y="213" font-size="10.9" text-anchor="end" fill="#1a1a1a" >1.0</text>
<text x="261.8" y="247.8" font-size="10.9" text-anchor="end" fill="#1a1a1a" >0.5</text>
<text x="261.8" y="283" font-size="10.9" text-anchor="end" fill="#1a1a1a" >0</text>
<text x="261.8" y="315.8" font-size="10.9" text-anchor="end" fill="#1a1a1a" >&#8722;0.5</text>
<text x="261.8" y="349.85" font-size="10.9" text-anchor="end" fill="#1a1a1a" >&#8722;1.0</text>
<text x="350.4" y="376" font-size="11.3" text-anchor="middle" fill="#1a1a1a" >Time delay (ps)</text>
<text x="227.2" y="278.4" font-size="12" font-family="Liberation Serif" font-style="italic" text-anchor="middle" dominant-baseline="central" transform="rotate(-90 227.2 278.4)" fill="#1a1a1a">&#961;</text>
<text x="423.5" y="225.8" font-size="11.3" text-anchor="end" fill="#1a1a1a" >PbI<tspan font-size="7.6" dy="2.8">2</tspan></text>
<g clip-path="url(#clipE)">
<g fill="none" stroke="#262626" stroke-width="0.68">
<circle cx="355.7" cy="303.1" r="2.0"/>
<circle cx="407.7" cy="302.5" r="2.0"/>
<circle cx="418.7" cy="303.4" r="2.0"/>
<circle cx="378" cy="299.6" r="2.0"/>
<circle cx="363.4" cy="293.5" r="2.0"/>
<circle cx="301.1" cy="248.5" r="2.0"/>
<circle cx="309.8" cy="251.6" r="2.0"/>
<circle cx="310.9" cy="251.3" r="2.0"/>
<circle cx="270.5" cy="252.1" r="2.0"/>
<circle cx="268.1" cy="252.5" r="2.0"/>
<circle cx="277.6" cy="254.7" r="2.0"/>
<circle cx="283.1" cy="256.3" r="2.0"/>
<circle cx="288.6" cy="255.7" r="2.0"/>
<circle cx="274.4" cy="259.9" r="2.0"/>
<circle cx="290.1" cy="260.4" r="2.0"/>
<circle cx="299.6" cy="258.4" r="2.0"/>
<circle cx="302.4" cy="259.5" r="2.0"/>
<circle cx="280.7" cy="266.2" r="2.0"/>
<circle cx="281.5" cy="270.9" r="2.0"/>
<circle cx="287" cy="272" r="2.0"/>
<circle cx="285.4" cy="278" r="2.0"/>
<circle cx="294.1" cy="276.4" r="2.0"/>
<circle cx="296.4" cy="276.4" r="2.0"/>
<circle cx="291.7" cy="281.9" r="2.0"/>
<circle cx="292.5" cy="280.4" r="2.0"/>
<circle cx="298.8" cy="268.6" r="2.0"/>
<circle cx="304" cy="270.1" r="2.0"/>
<circle cx="306.6" cy="275.6" r="2.0"/>
<circle cx="311.8" cy="265.1" r="2.0"/>
<circle cx="313.7" cy="272" r="2.0"/>
<circle cx="314.5" cy="281.5" r="2.0"/>
<circle cx="318.4" cy="280.4" r="2.0"/>
<circle cx="305.1" cy="287.7" r="2.0"/>
<circle cx="306.2" cy="294.2" r="2.0"/>
<circle cx="316.1" cy="290.9" r="2.0"/>
<circle cx="320.3" cy="259.5" r="2.0"/>
<circle cx="321.6" cy="260.7" r="2.0"/>
<circle cx="327.1" cy="257.3" r="2.0"/>
<circle cx="328.6" cy="262.3" r="2.0"/>
<circle cx="333.8" cy="260.7" r="2.0"/>
<circle cx="332.3" cy="264.6" r="2.0"/>
<circle cx="325.5" cy="270.1" r="2.0"/>
<circle cx="322.8" cy="274.5" r="2.0"/>
<circle cx="331" cy="276.4" r="2.0"/>
<circle cx="323.9" cy="286.2" r="2.0"/>
<circle cx="329.4" cy="284.6" r="2.0"/>
<circle cx="335.4" cy="283" r="2.0"/>
<circle cx="336.5" cy="286.6" r="2.0"/>
<circle cx="339.2" cy="252.9" r="2.0"/>
<circle cx="340.4" cy="257.9" r="2.0"/>
<circle cx="337.6" cy="269.8" r="2.0"/>
<circle cx="341.7" cy="277.2" r="2.0"/>
<circle cx="346.7" cy="278.8" r="2.0"/>
<circle cx="345.9" cy="284" r="2.0"/>
<circle cx="343.3" cy="289.5" r="2.0"/>
<circle cx="344.7" cy="293.7" r="2.0"/>
<circle cx="348.3" cy="268.9" r="2.0"/>
<circle cx="351.1" cy="267" r="2.0"/>
<circle cx="351.7" cy="261" r="2.0"/>
<circle cx="349.9" cy="277.2" r="2.0"/>
<circle cx="353" cy="261.2" r="2.0"/>
<circle cx="351.5" cy="267" r="2.0"/>
<circle cx="349.3" cy="269.5" r="2.0"/>
<circle cx="354.3" cy="272.7" r="2.0"/>
<circle cx="350.4" cy="276.9" r="2.0"/>
<circle cx="359" cy="281.2" r="2.0"/>
<circle cx="358.7" cy="284.8" r="2.0"/>
<circle cx="361.4" cy="287.9" r="2.0"/>
<circle cx="357.4" cy="293.1" r="2.0"/>
<circle cx="362.9" cy="293.4" r="2.0"/>
<circle cx="365.3" cy="284.8" r="2.0"/>
<circle cx="366.5" cy="282.1" r="2.0"/>
<circle cx="368.4" cy="292.6" r="2.0"/>
<circle cx="369.2" cy="291.1" r="2.0"/>
<circle cx="372.4" cy="282.7" r="2.0"/>
<circle cx="373.9" cy="276.5" r="2.0"/>
<circle cx="376.3" cy="282.4" r="2.0"/>
<circle cx="379.4" cy="296.9" r="2.0"/>
<circle cx="380.2" cy="289" r="2.0"/>
<circle cx="381.3" cy="269.1" r="2.0"/>
<circle cx="383.4" cy="272.7" r="2.0"/>
<circle cx="384.9" cy="284" r="2.0"/>
<circle cx="387.3" cy="282.1" r="2.0"/>
<circle cx="385.7" cy="292.2" r="2.0"/>
<circle cx="391.2" cy="271.1" r="2.0"/>
<circle cx="390.1" cy="276.5" r="2.0"/>
<circle cx="392.8" cy="286.4" r="2.0"/>
<circle cx="393.9" cy="290.3" r="2.0"/>
<circle cx="395.1" cy="281.2" r="2.0"/>
<circle cx="396.7" cy="264.8" r="2.0"/>
<circle cx="398" cy="268" r="2.0"/>
<circle cx="399.1" cy="269.9" r="2.0"/>
<circle cx="402.2" cy="281.2" r="2.0"/>
<circle cx="403.3" cy="258.5" r="2.0"/>
<circle cx="404.9" cy="264.4" r="2.0"/>
<circle cx="409" cy="263.6" r="2.0"/>
<circle cx="410.5" cy="250.2" r="2.0"/>
<circle cx="411.6" cy="254.9" r="2.0"/>
<circle cx="414.8" cy="263.6" r="2.0"/>
<circle cx="406.1" cy="276.1" r="2.0"/>
<circle cx="412.7" cy="271.1" r="2.0"/>
<circle cx="415.9" cy="269.5" r="2.0"/>
<circle cx="417.1" cy="292.6" r="2.0"/>
<circle cx="420" cy="294.2" r="2.0"/>
<circle cx="421.9" cy="274.3" r="2.0"/>
<circle cx="424.2" cy="278.5" r="2.0"/>
<circle cx="425.3" cy="268.3" r="2.0"/>
<circle cx="427.4" cy="267.5" r="2.0"/>
<circle cx="428.1" cy="256.5" r="2.0"/>
<circle cx="429.4" cy="260.4" r="2.0"/>
<circle cx="430.5" cy="276.9" r="2.0"/>
<circle cx="432.9" cy="285.6" r="2.0"/>
<circle cx="285.6" cy="278.2" r="2.0"/>
<circle cx="291.3" cy="282.1" r="2.0"/>
<circle cx="294.5" cy="276.3" r="2.0"/>
<circle cx="304.8" cy="287.8" r="2.0"/>
<circle cx="314.5" cy="281.2" r="2.0"/>
<circle cx="317" cy="280.8" r="2.0"/>
<circle cx="316" cy="290.7" r="2.0"/>
<circle cx="324.1" cy="286.3" r="2.0"/>
<circle cx="329.9" cy="284.2" r="2.0"/>
<circle cx="335" cy="283" r="2.0"/>
<circle cx="336.3" cy="286.6" r="2.0"/>
<circle cx="343.4" cy="288.9" r="2.0"/>
<circle cx="344.7" cy="293.6" r="2.0"/>
<circle cx="346.2" cy="284.2" r="2.0"/>
</g>
<path d="M266,256.83 L266.5,256.8 L267,256.8 L267.5,256.82 L268,256.86 L268.5,256.92 L269,256.99 L269.5,257.07 L270,257.16 L270.5,257.27 L271,257.37 L271.5,257.49 L272,257.6 L272.5,257.74 L273,257.91 L273.5,258.11 L274,258.34 L274.5,258.58 L275,258.84 L275.5,259.1 L276,259.36 L276.5,259.6 L277,259.84 L277.5,260.08 L278,260.32 L278.5,260.56 L279,260.8 L279.5,261.05 L280,261.3 L280.5,261.55 L281,261.81 L281.5,262.07 L282,262.33 L282.5,262.6 L283,262.88 L283.5,263.16 L284,263.45 L284.5,263.74 L285,264.04 L285.5,264.34 L286,264.64 L286.5,264.95 L287,265.25 L287.5,265.56 L288,265.86 L288.5,266.16 L289,266.47 L289.5,266.78 L290,267.1 L290.5,267.42 L291,267.75 L291.5,268.06 L292,268.38 L292.5,268.68 L293,268.97 L293.5,269.24 L294,269.5 L294.5,269.74 L295,269.97 L295.5,270.18 L296,270.38 L296.5,270.58 L297,270.77 L297.5,270.95 L298,271.14 L298.5,271.32 L299,271.51 L299.5,271.7 L300,271.9 L300.5,272.1 L301,272.32 L301.5,272.53 L302,272.75 L302.5,272.97 L303,273.18 L303.5,273.4 L304,273.6 L304.5,273.8 L305,273.99 L305.5,274.17 L306,274.33 L306.5,274.48 L307,274.63 L307.5,274.77 L308,274.91 L308.5,275.04 L309,275.16 L309.5,275.29 L310,275.41 L310.5,275.52 L311,275.64 L311.5,275.75 L312,275.87 L312.5,275.98 L313,276.09 L313.5,276.2 L314,276.31 L314.5,276.42 L315,276.52 L315.5,276.62 L316,276.72 L316.5,276.81 L317,276.9 L317.5,276.98 L318,277.07 L318.5,277.15 L319,277.23 L319.5,277.31 L320,277.39 L320.5,277.46 L321,277.54 L321.5,277.6 L322,277.66 L322.5,277.72 L323,277.77 L323.5,277.81 L324,277.84 L324.5,277.87 L325,277.9 L325.5,277.93 L326,277.95 L326.5,277.98 L327,278 L327.5,278.02 L328,278.04 L328.5,278.07 L329,278.09 L329.5,278.12 L330,278.14 L330.5,278.17 L331,278.2 L331.5,278.23 L332,278.26 L332.5,278.29 L333,278.31 L333.5,278.34 L334,278.36 L334.5,278.38 L335,278.4 L335.5,278.41 L336,278.43 L336.5,278.44 L337,278.46 L337.5,278.47 L338,278.48 L338.5,278.5 L339,278.51 L339.5,278.52 L340,278.54 L340.5,278.55 L341,278.56 L341.5,278.57 L342,278.58 L342.5,278.58 L343,278.59 L343.5,278.59 L344,278.6 L344.5,278.6 L345,278.6 L345.5,278.6 L346,278.6 L346.5,278.6 L347,278.6 L347.5,278.6 L348,278.6 L348.5,278.6 L349,278.6 L349.5,278.6 L350,278.6 L350.5,278.6 L351,278.6 L351.5,278.6 L352,278.6 L352.5,278.6 L353,278.6 L353.5,278.6 L354,278.6 L354.5,278.6 L355,278.6 L355.5,278.6 L356,278.6 L356.5,278.6 L357,278.6 L357.5,278.6 L358,278.6 L358.5,278.6 L359,278.6 L359.5,278.6 L360,278.6 L360.5,278.6 L361,278.6 L361.5,278.6 L362,278.6 L362.5,278.6 L363,278.6 L363.5,278.6 L364,278.6 L364.5,278.6 L365,278.6 L365.5,278.6 L366,278.59 L366.5,278.59 L367,278.59 L367.5,278.59 L368,278.59 L368.5,278.59 L369,278.59 L369.5,278.59 L370,278.59 L370.5,278.59 L371,278.59 L371.5,278.59 L372,278.59 L372.5,278.59 L373,278.59 L373.5,278.59 L374,278.59 L374.5,278.59 L375,278.58 L375.5,278.58 L376,278.58 L376.5,278.58 L377,278.58 L377.5,278.58 L378,278.58 L378.5,278.58 L379,278.58 L379.5,278.58 L380,278.58 L380.5,278.58 L381,278.57 L381.5,278.57 L382,278.57 L382.5,278.57 L383,278.57 L383.5,278.57 L384,278.57 L384.5,278.57 L385,278.56 L385.5,278.56 L386,278.56 L386.5,278.56 L387,278.56 L387.5,278.56 L388,278.56 L388.5,278.55 L389,278.55 L389.5,278.55 L390,278.55 L390.5,278.55 L391,278.55 L391.5,278.54 L392,278.54 L392.5,278.54 L393,278.54 L393.5,278.54 L394,278.53 L394.5,278.53 L395,278.53 L395.5,278.53 L396,278.53 L396.5,278.52 L397,278.52 L397.5,278.52 L398,278.52 L398.5,278.51 L399,278.51 L399.5,278.51 L400,278.51 L400.5,278.5 L401,278.5 L401.5,278.5 L402,278.5 L402.5,278.49 L403,278.49 L403.5,278.49 L404,278.49 L404.5,278.48 L405,278.48 L405.5,278.48 L406,278.47 L406.5,278.47 L407,278.47 L407.5,278.46 L408,278.46 L408.5,278.46 L409,278.45 L409.5,278.45 L410,278.45 L410.5,278.44 L411,278.44 L411.5,278.44 L412,278.43 L412.5,278.43 L413,278.42 L413.5,278.42 L414,278.42 L414.5,278.41 L415,278.41 L415.5,278.4 L416,278.4 L416.5,278.4 L417,278.39 L417.5,278.39 L418,278.38 L418.5,278.38 L419,278.37 L419.5,278.37 L420,278.36 L420.5,278.36 L421,278.36 L421.5,278.35 L422,278.35 L422.5,278.34 L423,278.34 L423.5,278.33 L424,278.32 L424.5,278.32 L425,278.31 L425.5,278.31 L426,278.3 L426.5,278.3 L427,278.29 L427.5,278.29 L428,278.28 L428.5,278.28 L429,278.27 L429.5,278.26 L430,278.26 L430.5,278.25 L431,278.25 L431.5,278.24 L432,278.23 L432.5,278.23 L433,278.22 L433.5,278.21 L434,278.21 L434.5,278.2" stroke="#0000ff" stroke-width="3.0" fill="none"/>
</g>
<text x="465" y="208.5" font-size="16" font-weight="bold" fill="#000">f</text>
<rect x="507.5" y="208.8" width="168.2" height="136.7" fill="none" stroke="#3c3c3c" stroke-width="1.0"/>
<path d="M513,345.5 L513,342.5 M553.6,345.5 L553.6,342.5 M594.2,345.5 L594.2,342.5 M634.8,345.5 L634.8,342.5 " stroke="#3c3c3c" stroke-width="0.9" fill="none"/>
<path d="M533.3,345.5 L533.3,343.5 M573.9,345.5 L573.9,343.5 M614.5,345.5 L614.5,343.5 M655.1,345.5 L655.1,343.5 " stroke="#3c3c3c" stroke-width="0.9" fill="none"/>
<path d="M507.5,242.97 L510.5,242.97 M507.5,277.15 L510.5,277.15 M507.5,311.32 L510.5,311.32 " stroke="#3c3c3c" stroke-width="0.9" fill="none"/>
<path d="M507.5,225.89 L509.5,225.89 M507.5,260.06 L509.5,260.06 M507.5,294.24 L509.5,294.24 M507.5,328.41 L509.5,328.41 " stroke="#3c3c3c" stroke-width="0.9" fill="none"/>
<text x="513" y="358.7" font-size="11.3" text-anchor="middle" fill="#1a1a1a" >20</text>
<text x="553.6" y="358.7" font-size="11.3" text-anchor="middle" fill="#1a1a1a" >40</text>
<text x="594.2" y="358.7" font-size="11.3" text-anchor="middle" fill="#1a1a1a" >60</text>
<text x="634.8" y="358.7" font-size="11.3" text-anchor="middle" fill="#1a1a1a" >80</text>
<text x="675.4" y="358.7" font-size="11.3" text-anchor="middle" fill="#1a1a1a" >100</text>
<text x="502.6" y="213.05" font-size="10.9" text-anchor="end" fill="#1a1a1a" >1.0</text>
<text x="502.6" y="247.65" font-size="10.9" text-anchor="end" fill="#1a1a1a" >0.5</text>
<text x="502.6" y="280.7" font-size="10.9" text-anchor="end" fill="#1a1a1a" >0</text>
<text x="502.6" y="315.85" font-size="10.9" text-anchor="end" fill="#1a1a1a" >&#8722;0.5</text>
<text x="502.6" y="349.35" font-size="10.9" text-anchor="end" fill="#1a1a1a" >&#8722;1.0</text>
<text x="591.5" y="374.5" font-size="11.3" text-anchor="middle" fill="#1a1a1a" >Time delay (ps)</text>
<text x="467.3" y="277.3" font-size="12" font-family="Liberation Serif" font-style="italic" text-anchor="middle" dominant-baseline="central" transform="rotate(-90 467.3 277.3)" fill="#1a1a1a">&#961;</text>
<text x="664.8" y="225.9" font-size="11.5" text-anchor="end" fill="#1a1a1a" >WS<tspan font-size="7.6" dy="2.8">2</tspan></text>
<g clip-path="url(#clipF)">
<g fill="none" stroke="#262626" stroke-width="0.68">
<circle cx="508.9" cy="269.6" r="2.0"/>
<circle cx="510.6" cy="270.5" r="2.0"/>
<circle cx="509.4" cy="276.8" r="2.0"/>
<circle cx="508.9" cy="279.3" r="2.0"/>
<circle cx="513.5" cy="277.6" r="2.0"/>
<circle cx="516.5" cy="272.1" r="2.0"/>
<circle cx="519" cy="280.9" r="2.0"/>
<circle cx="521.5" cy="270.9" r="2.0"/>
<circle cx="522.8" cy="272.6" r="2.0"/>
<circle cx="523.6" cy="274.2" r="2.0"/>
<circle cx="527.4" cy="273.8" r="2.0"/>
<circle cx="526.1" cy="280.1" r="2.0"/>
<circle cx="529.5" cy="284.3" r="2.0"/>
<circle cx="530.3" cy="281.4" r="2.0"/>
<circle cx="532.4" cy="269.2" r="2.0"/>
<circle cx="534.1" cy="275.1" r="2.0"/>
<circle cx="535.3" cy="275.9" r="2.0"/>
<circle cx="535.7" cy="280.9" r="2.0"/>
<circle cx="540.3" cy="283.5" r="2.0"/>
<circle cx="542" cy="276.8" r="2.0"/>
<circle cx="544.1" cy="271.3" r="2.0"/>
<circle cx="545.8" cy="283" r="2.0"/>
<circle cx="547" cy="275.1" r="2.0"/>
<circle cx="549.6" cy="275.5" r="2.0"/>
<circle cx="553.3" cy="276.3" r="2.0"/>
<circle cx="555" cy="283.5" r="2.0"/>
<circle cx="554" cy="275.5" r="2.0"/>
<circle cx="559.9" cy="277.6" r="2.0"/>
<circle cx="563.2" cy="273" r="2.0"/>
<circle cx="567" cy="275.5" r="2.0"/>
<circle cx="570.8" cy="273" r="2.0"/>
<circle cx="573.3" cy="275.1" r="2.0"/>
<circle cx="579.1" cy="273" r="2.0"/>
<circle cx="581.6" cy="276.3" r="2.0"/>
<circle cx="588.3" cy="273.4" r="2.0"/>
<circle cx="591.7" cy="270.1" r="2.0"/>
<circle cx="592.5" cy="275.1" r="2.0"/>
<circle cx="601.7" cy="268.4" r="2.0"/>
<circle cx="602.2" cy="271.3" r="2.0"/>
<circle cx="600.5" cy="277.6" r="2.0"/>
<circle cx="556.5" cy="284.3" r="2.0"/>
<circle cx="558.2" cy="286" r="2.0"/>
<circle cx="561.5" cy="284.3" r="2.0"/>
<circle cx="565.3" cy="284.3" r="2.0"/>
<circle cx="577" cy="284.3" r="2.0"/>
<circle cx="580" cy="282.2" r="2.0"/>
<circle cx="585.8" cy="283" r="2.0"/>
<circle cx="587.5" cy="285.1" r="2.0"/>
<circle cx="590.9" cy="280.9" r="2.0"/>
<circle cx="595.9" cy="286.8" r="2.0"/>
<circle cx="596.7" cy="289.3" r="2.0"/>
<circle cx="599.2" cy="285.1" r="2.0"/>
<circle cx="600.5" cy="282.2" r="2.0"/>
<circle cx="602.1" cy="267.1" r="2.0"/>
<circle cx="602.5" cy="270.1" r="2.0"/>
<circle cx="608.4" cy="271.3" r="2.0"/>
<circle cx="615.5" cy="269.2" r="2.0"/>
<circle cx="614.7" cy="274.2" r="2.0"/>
<circle cx="619.3" cy="275.1" r="2.0"/>
<circle cx="623.5" cy="273.8" r="2.0"/>
<circle cx="625.1" cy="268.4" r="2.0"/>
<circle cx="626.8" cy="273" r="2.0"/>
<circle cx="631.4" cy="275.5" r="2.0"/>
<circle cx="637.7" cy="272.6" r="2.0"/>
<circle cx="641.9" cy="268.4" r="2.0"/>
<circle cx="641.9" cy="275.5" r="2.0"/>
<circle cx="609.2" cy="276.3" r="2.0"/>
<circle cx="605" cy="276.8" r="2.0"/>
<circle cx="604.2" cy="285.1" r="2.0"/>
<circle cx="600.4" cy="286" r="2.0"/>
<circle cx="609.6" cy="284.3" r="2.0"/>
<circle cx="612.1" cy="285.1" r="2.0"/>
<circle cx="613.8" cy="288.5" r="2.0"/>
<circle cx="617.2" cy="283" r="2.0"/>
<circle cx="628.5" cy="283" r="2.0"/>
<circle cx="629.3" cy="286.4" r="2.0"/>
<circle cx="633.5" cy="288.9" r="2.0"/>
<circle cx="634.8" cy="285.1" r="2.0"/>
<circle cx="640.2" cy="287.2" r="2.0"/>
<circle cx="645.2" cy="286.4" r="2.0"/>
<circle cx="647.7" cy="283.5" r="2.0"/>
<circle cx="649" cy="290.2" r="2.0"/>
<circle cx="642.1" cy="268.4" r="2.0"/>
<circle cx="637.9" cy="272.1" r="2.0"/>
<circle cx="642.5" cy="275.9" r="2.0"/>
<circle cx="652.6" cy="271.3" r="2.0"/>
<circle cx="651.3" cy="275.1" r="2.0"/>
<circle cx="661.8" cy="270.9" r="2.0"/>
<circle cx="660.1" cy="274.2" r="2.0"/>
<circle cx="666" cy="270.1" r="2.0"/>
<circle cx="671.9" cy="268.8" r="2.0"/>
<circle cx="671.9" cy="273.4" r="2.0"/>
<circle cx="673.1" cy="276.3" r="2.0"/>
<circle cx="636.3" cy="284.3" r="2.0"/>
<circle cx="640.4" cy="287.6" r="2.0"/>
<circle cx="645.5" cy="286.4" r="2.0"/>
<circle cx="648.4" cy="283.5" r="2.0"/>
<circle cx="653.8" cy="285.5" r="2.0"/>
<circle cx="650.1" cy="290.2" r="2.0"/>
<circle cx="656.8" cy="290.6" r="2.0"/>
<circle cx="659.7" cy="282.6" r="2.0"/>
<circle cx="663.5" cy="287.2" r="2.0"/>
<circle cx="664.7" cy="284.3" r="2.0"/>
<circle cx="670.2" cy="281.4" r="2.0"/>
<circle cx="668.5" cy="286.8" r="2.0"/>
<circle cx="673.5" cy="285.1" r="2.0"/>
<circle cx="596.5" cy="291.75" r="2.0"/>
<circle cx="614" cy="290" r="2.0"/>
<circle cx="633.5" cy="293.75" r="2.0"/>
<circle cx="639.5" cy="296.25" r="2.0"/>
<circle cx="655.25" cy="294.5" r="2.0"/>
<circle cx="643.44" cy="273.24" r="2.0"/>
<circle cx="595.06" cy="280.57" r="2.0"/>
<circle cx="518.01" cy="279.26" r="2.0"/>
<circle cx="577.22" cy="275.5" r="2.0"/>
<circle cx="517.14" cy="285.67" r="2.0"/>
<circle cx="617.95" cy="273.62" r="2.0"/>
<circle cx="581.64" cy="285.52" r="2.0"/>
<circle cx="658.91" cy="271.53" r="2.0"/>
<circle cx="574.53" cy="273.91" r="2.0"/>
<circle cx="622.01" cy="276.75" r="2.0"/>
<circle cx="601.78" cy="281.12" r="2.0"/>
<circle cx="655.9" cy="276.32" r="2.0"/>
<circle cx="622.42" cy="282.29" r="2.0"/>
<circle cx="546.96" cy="277.72" r="2.0"/>
<circle cx="654.66" cy="278.07" r="2.0"/>
<circle cx="627.15" cy="278.89" r="2.0"/>
<circle cx="593.06" cy="277.52" r="2.0"/>
<circle cx="542.94" cy="277.14" r="2.0"/>
<circle cx="643.64" cy="273.11" r="2.0"/>
<circle cx="533.89" cy="274.14" r="2.0"/>
<circle cx="583.91" cy="281.81" r="2.0"/>
<circle cx="548.33" cy="279.94" r="2.0"/>
<circle cx="642.58" cy="278.94" r="2.0"/>
<circle cx="593.57" cy="270.45" r="2.0"/>
<circle cx="511.43" cy="277.73" r="2.0"/>
<circle cx="523.33" cy="273.84" r="2.0"/>
<circle cx="570.44" cy="274.18" r="2.0"/>
<circle cx="575.7" cy="275.27" r="2.0"/>
<circle cx="601.88" cy="281.19" r="2.0"/>
<circle cx="632.82" cy="281.5" r="2.0"/>
<circle cx="623.26" cy="282.33" r="2.0"/>
<circle cx="546.06" cy="278.51" r="2.0"/>
<circle cx="526.88" cy="277.13" r="2.0"/>
<circle cx="615.11" cy="278.71" r="2.0"/>
<circle cx="642.35" cy="277.27" r="2.0"/>
<circle cx="574.21" cy="279.82" r="2.0"/>
<circle cx="572.54" cy="275.17" r="2.0"/>
<circle cx="611.29" cy="273.35" r="2.0"/>
<circle cx="674.61" cy="273.41" r="2.0"/>
<circle cx="644.08" cy="277.29" r="2.0"/>
<circle cx="628.05" cy="274.03" r="2.0"/>
<circle cx="576" cy="274.37" r="2.0"/>
<circle cx="589.07" cy="281.38" r="2.0"/>
<circle cx="561.99" cy="277.45" r="2.0"/>
<circle cx="509.15" cy="276.93" r="2.0"/>
<circle cx="614.45" cy="284.42" r="2.0"/>
<circle cx="663.25" cy="273.51" r="2.0"/>
<circle cx="674.14" cy="277.94" r="2.0"/>
<circle cx="646.48" cy="279.91" r="2.0"/>
<circle cx="576.65" cy="276.79" r="2.0"/>
<circle cx="652.29" cy="276.62" r="2.0"/>
<circle cx="532.34" cy="277.2" r="2.0"/>
<circle cx="552.11" cy="286.78" r="2.0"/>
<circle cx="601.39" cy="272.18" r="2.0"/>
<circle cx="653.35" cy="280.26" r="2.0"/>
</g>
<path d="M507,273.9 L507.5,273.94 L508,273.99 L508.5,274.03 L509,274.08 L509.5,274.13 L510,274.18 L510.5,274.22 L511,274.27 L511.5,274.33 L512,274.38 L512.5,274.43 L513,274.48 L513.5,274.54 L514,274.59 L514.5,274.65 L515,274.7 L515.5,274.76 L516,274.82 L516.5,274.87 L517,274.93 L517.5,274.99 L518,275.05 L518.5,275.11 L519,275.18 L519.5,275.24 L520,275.3 L520.5,275.36 L521,275.43 L521.5,275.5 L522,275.57 L522.5,275.65 L523,275.73 L523.5,275.8 L524,275.88 L524.5,275.96 L525,276.05 L525.5,276.13 L526,276.21 L526.5,276.3 L527,276.38 L527.5,276.47 L528,276.55 L528.5,276.64 L529,276.72 L529.5,276.8 L530,276.88 L530.5,276.97 L531,277.04 L531.5,277.12 L532,277.2 L532.5,277.27 L533,277.34 L533.5,277.41 L534,277.48 L534.5,277.54 L535,277.6 L535.5,277.66 L536,277.72 L536.5,277.77 L537,277.83 L537.5,277.89 L538,277.95 L538.5,278 L539,278.06 L539.5,278.11 L540,278.17 L540.5,278.22 L541,278.27 L541.5,278.33 L542,278.38 L542.5,278.43 L543,278.48 L543.5,278.53 L544,278.57 L544.5,278.62 L545,278.67 L545.5,278.71 L546,278.75 L546.5,278.8 L547,278.84 L547.5,278.87 L548,278.91 L548.5,278.95 L549,278.98 L549.5,279.01 L550,279.04 L550.5,279.07 L551,279.1 L551.5,279.13 L552,279.15 L552.5,279.18 L553,279.21 L553.5,279.23 L554,279.25 L554.5,279.27 L555,279.28 L555.5,279.29 L556,279.3 L556.5,279.3 L557,279.31 L557.5,279.31 L558,279.31 L558.5,279.31 L559,279.31 L559.5,279.32 L560,279.32 L560.5,279.32 L561,279.32 L561.5,279.33 L562,279.33 L562.5,279.33 L563,279.33 L563.5,279.33 L564,279.34 L564.5,279.34 L565,279.34 L565.5,279.34 L566,279.34 L566.5,279.35 L567,279.35 L567.5,279.35 L568,279.35 L568.5,279.35 L569,279.35 L569.5,279.36 L570,279.36 L570.5,279.36 L571,279.36 L571.5,279.36 L572,279.36 L572.5,279.36 L573,279.37 L573.5,279.37 L574,279.37 L574.5,279.37 L575,279.37 L575.5,279.37 L576,279.37 L576.5,279.37 L577,279.38 L577.5,279.38 L578,279.38 L578.5,279.38 L579,279.38 L579.5,279.38 L580,279.38 L580.5,279.38 L581,279.38 L581.5,279.38 L582,279.38 L582.5,279.39 L583,279.39 L583.5,279.39 L584,279.39 L584.5,279.39 L585,279.39 L585.5,279.39 L586,279.39 L586.5,279.39 L587,279.39 L587.5,279.39 L588,279.39 L588.5,279.39 L589,279.39 L589.5,279.39 L590,279.39 L590.5,279.4 L591,279.4 L591.5,279.4 L592,279.4 L592.5,279.4 L593,279.4 L593.5,279.4 L594,279.4 L594.5,279.4 L595,279.4 L595.5,279.4 L596,279.4 L596.5,279.4 L597,279.4 L597.5,279.4 L598,279.4 L598.5,279.4 L599,279.4 L599.5,279.4 L600,279.4 L600.5,279.4 L601,279.4 L601.5,279.4 L602,279.4 L602.5,279.4 L603,279.4 L603.5,279.4 L604,279.4 L604.5,279.4 L605,279.4 L605.5,279.4 L606,279.4 L606.5,279.4 L607,279.4 L607.5,279.4 L608,279.4 L608.5,279.4 L609,279.4 L609.5,279.4 L610,279.4 L610.5,279.4 L611,279.4 L611.5,279.4 L612,279.4 L612.5,279.4 L613,279.39 L613.5,279.39 L614,279.39 L614.5,279.39 L615,279.39 L615.5,279.39 L616,279.39 L616.5,279.39 L617,279.39 L617.5,279.39 L618,279.39 L618.5,279.39 L619,279.39 L619.5,279.39 L620,279.38 L620.5,279.38 L621,279.38 L621.5,279.38 L622,279.38 L622.5,279.38 L623,279.38 L623.5,279.38 L624,279.38 L624.5,279.37 L625,279.37 L625.5,279.37 L626,279.37 L626.5,279.37 L627,279.37 L627.5,279.37 L628,279.36 L628.5,279.36 L629,279.36 L629.5,279.36 L630,279.36 L630.5,279.36 L631,279.36 L631.5,279.35 L632,279.35 L632.5,279.35 L633,279.35 L633.5,279.35 L634,279.34 L634.5,279.34 L635,279.34 L635.5,279.34 L636,279.34 L636.5,279.34 L637,279.33 L637.5,279.33 L638,279.33 L638.5,279.33 L639,279.33 L639.5,279.32 L640,279.32 L640.5,279.32 L641,279.32 L641.5,279.31 L642,279.31 L642.5,279.31 L643,279.31 L643.5,279.31 L644,279.3 L644.5,279.3 L645,279.3 L645.5,279.3 L646,279.29 L646.5,279.29 L647,279.29 L647.5,279.29 L648,279.28 L648.5,279.28 L649,279.28 L649.5,279.28 L650,279.27 L650.5,279.27 L651,279.27 L651.5,279.26 L652,279.26 L652.5,279.26 L653,279.26 L653.5,279.25 L654,279.25 L654.5,279.25 L655,279.25 L655.5,279.24 L656,279.24 L656.5,279.24 L657,279.23 L657.5,279.23 L658,279.23 L658.5,279.22 L659,279.22 L659.5,279.22 L660,279.21 L660.5,279.21 L661,279.21 L661.5,279.2 L662,279.2 L662.5,279.2 L663,279.19 L663.5,279.19 L664,279.19 L664.5,279.18 L665,279.18 L665.5,279.18 L666,279.17 L666.5,279.17 L667,279.17 L667.5,279.16 L668,279.16 L668.5,279.16 L669,279.15 L669.5,279.15 L670,279.15 L670.5,279.14 L671,279.14 L671.5,279.13 L672,279.13 L672.5,279.13 L673,279.12 L673.5,279.12 L674,279.12 L674.5,279.11 L675,279.11 L675.5,279.1" stroke="#0000ff" stroke-width="3.0" fill="none"/>
</g>
</svg>
</body></html>
